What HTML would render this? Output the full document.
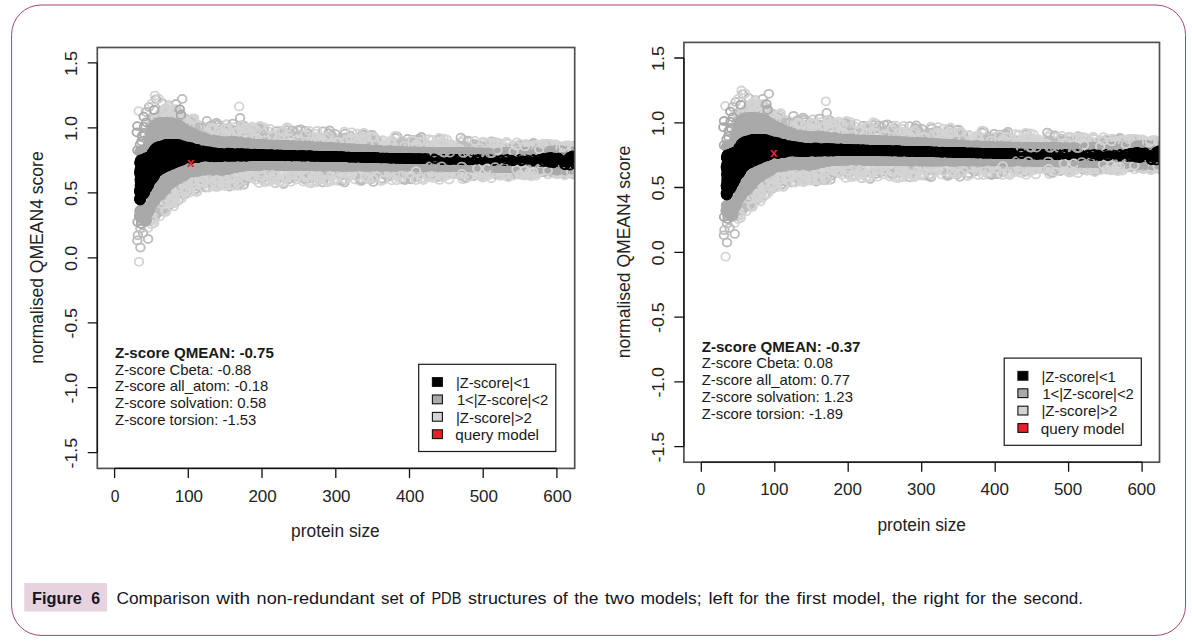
<!DOCTYPE html>
<html><head><meta charset="utf-8"><title>Figure 6</title>
<style>html,body{margin:0;padding:0;background:#fff;}body{width:1192px;height:643px;overflow:hidden;}svg{display:block;}text{font-family:"Liberation Sans", sans-serif;}.pl{fill:none;stroke:none;marker-start:url(#ml);marker-mid:url(#ml);marker-end:url(#ml);}.pl2{fill:none;stroke:none;marker-start:url(#ml2);marker-mid:url(#ml2);marker-end:url(#ml2);}.pg{fill:none;stroke:none;marker-start:url(#mg);marker-mid:url(#mg);marker-end:url(#mg);}.pb{fill:none;stroke:none;marker-start:url(#mb);marker-mid:url(#mb);marker-end:url(#mb);}</style></head><body>
<svg width="1192" height="643" viewBox="0 0 1192 643">
<defs><filter id="bl" x="0" y="0" width="1192" height="643" filterUnits="userSpaceOnUse"><feGaussianBlur stdDeviation="0.65"/></filter><marker id="ml" markerUnits="userSpaceOnUse" markerWidth="14" markerHeight="14" refX="7" refY="7" overflow="visible"><ellipse cx="7" cy="7" rx="4.30" ry="4.00" fill="none" stroke="#d4d4d4" stroke-width="1.80"/></marker><marker id="ml2" markerUnits="userSpaceOnUse" markerWidth="14" markerHeight="14" refX="7" refY="7" overflow="visible"><ellipse cx="7" cy="7" rx="4.30" ry="4.00" fill="none" stroke="#bcbcbc" stroke-width="1.80"/></marker><marker id="mg" markerUnits="userSpaceOnUse" markerWidth="14" markerHeight="14" refX="7" refY="7" overflow="visible"><ellipse cx="7" cy="7" rx="4.30" ry="4.00" fill="none" stroke="#a9a9a9" stroke-width="1.80"/></marker><marker id="mb" markerUnits="userSpaceOnUse" markerWidth="14" markerHeight="14" refX="7" refY="7" overflow="visible"><ellipse cx="7" cy="7" rx="4.30" ry="4.00" fill="none" stroke="#000" stroke-width="1.80"/></marker></defs>
<rect width="1192" height="643" fill="#fff"/>
<rect x="11.6" y="5.0" width="1173.9" height="630.4" rx="29.5" ry="29.5" fill="none" stroke="#a4447a" stroke-width="1.0"/>
<clipPath id="cpL"><rect x="97.3" y="47.5" width="477.4" height="420.9"/></clipPath>
<g clip-path="url(#cpL)">
<g id="sc" filter="url(#bl)">
<polygon fill="#dfdfdf" points="158.0,112.6 161.0,110.9 164.0,109.5 167.0,108.3 170.0,108.4 173.0,109.7 176.0,111.0 179.0,112.5 182.0,115.2 185.0,117.6 188.0,118.4 191.0,118.9 194.0,119.5 197.0,120.1 200.0,120.7 203.0,121.6 206.0,122.5 209.0,123.5 212.0,124.4 215.0,124.9 218.0,125.3 221.0,125.7 224.0,126.2 227.0,126.4 230.0,126.6 233.0,126.7 236.0,126.9 239.0,127.1 242.0,127.4 245.0,127.6 248.0,127.8 251.0,128.1 254.0,128.4 257.0,128.8 260.0,129.1 263.0,129.4 266.0,129.7 269.0,129.8 272.0,130.0 275.0,130.1 278.0,130.3 281.0,130.5 284.0,130.6 287.0,130.8 290.0,130.9 293.0,131.1 296.0,131.3 299.0,131.4 302.0,131.6 305.0,131.7 308.0,131.9 311.0,132.1 314.0,132.2 317.0,132.4 320.0,132.5 323.0,132.7 326.0,132.9 329.0,133.1 332.0,133.3 335.0,133.5 338.0,133.8 341.0,134.0 344.0,134.2 347.0,134.4 350.0,134.6 353.0,134.9 356.0,135.1 359.0,135.3 362.0,135.5 365.0,135.7 368.0,135.9 371.0,136.2 374.0,136.4 377.0,136.6 380.0,136.8 383.0,137.0 386.0,137.3 389.0,137.5 392.0,137.7 395.0,137.9 398.0,138.1 401.0,138.4 404.0,138.6 407.0,138.8 410.0,139.0 413.0,139.1 416.0,139.2 419.0,139.3 422.0,139.5 425.0,139.6 428.0,139.7 431.0,139.8 434.0,139.9 437.0,140.0 440.0,140.1 443.0,140.2 446.0,140.3 449.0,140.4 452.0,140.5 455.0,140.6 458.0,140.7 461.0,140.9 464.0,141.0 467.0,141.1 470.0,141.2 473.0,141.3 476.0,141.4 479.0,141.5 482.0,141.6 485.0,141.7 488.0,141.8 491.0,141.9 494.0,142.0 497.0,142.1 500.0,142.2 503.0,142.2 506.0,142.3 509.0,142.4 512.0,142.5 515.0,142.6 518.0,142.6 521.0,142.7 524.0,142.8 527.0,142.9 530.0,143.0 533.0,143.1 536.0,143.1 539.0,143.2 542.0,143.3 545.0,143.4 548.0,143.5 551.0,143.5 554.0,143.6 557.0,143.7 560.0,143.8 560.0,176.1 557.0,176.2 554.0,176.2 551.0,176.3 548.0,176.3 545.0,176.4 542.0,176.5 539.0,176.5 536.0,176.6 533.0,176.6 530.0,176.7 527.0,176.8 524.0,176.8 521.0,176.9 518.0,176.9 515.0,177.0 512.0,177.1 509.0,177.1 506.0,177.2 503.0,177.3 500.0,177.3 497.0,177.4 494.0,177.4 491.0,177.5 488.0,177.6 485.0,177.6 482.0,177.6 479.0,177.7 476.0,177.7 473.0,177.8 470.0,177.8 467.0,177.9 464.0,177.9 461.0,178.0 458.0,178.0 455.0,178.0 452.0,178.1 449.0,178.1 446.0,178.2 443.0,178.2 440.0,178.3 437.0,178.3 434.0,178.3 431.0,178.4 428.0,178.4 425.0,178.5 422.0,178.5 419.0,178.6 416.0,178.6 413.0,178.7 410.0,178.7 407.0,178.8 404.0,178.8 401.0,178.9 398.0,178.9 395.0,179.0 392.0,179.0 389.0,179.1 386.0,179.1 383.0,179.2 380.0,179.3 377.0,179.3 374.0,179.4 371.0,179.4 368.0,179.5 365.0,179.5 362.0,179.6 359.0,179.6 356.0,179.7 353.0,179.8 350.0,179.8 347.0,179.9 344.0,179.9 341.0,180.0 338.0,180.0 335.0,180.1 332.0,180.2 329.0,180.2 326.0,180.3 323.0,180.3 320.0,180.4 317.0,180.4 314.0,180.4 311.0,180.4 308.0,180.4 305.0,180.5 302.0,180.5 299.0,180.5 296.0,180.5 293.0,180.5 290.0,180.6 287.0,180.6 284.0,180.6 281.0,180.6 278.0,180.6 275.0,180.6 272.0,180.7 269.0,180.7 266.0,180.7 263.0,180.9 260.0,181.1 257.0,181.3 254.0,181.6 251.0,181.8 248.0,182.1 245.0,182.3 242.0,182.7 239.0,183.2 236.0,183.6 233.0,184.0 230.0,184.3 227.0,184.6 224.0,184.6 221.0,184.7 218.0,184.8 215.0,185.1 212.0,185.4 209.0,185.7 206.0,186.0 203.0,186.5 200.0,187.2 197.0,188.1 194.0,188.9 191.0,189.8 188.0,191.3 185.0,193.7 182.0,196.0 179.0,198.2 176.0,200.4 173.0,202.9 170.0,205.4 167.0,208.0 164.0,210.9 161.0,213.7 158.0,216.6"/>
<polyline class="pl" points="221.5,132.0 181.9,193.9 201.5,185.0 154.6,212.0 181.8,117.0 202.2,182.1 468.0,142.1 306.1,137.0 491.4,178.3 528.6,171.4 456.0,174.2 150.4,124.8 305.4,179.9 381.9,145.4 545.2,146.7 168.8,114.8 355.1,179.5 536.0,173.7 357.0,133.7 344.5,131.7 302.2,178.6 567.5,146.9 264.0,127.3 370.4,173.8 253.8,138.2 514.1,146.4 568.2,146.5 233.2,181.8 252.7,170.9 461.2,142.0 529.3,174.8 198.4,125.2 194.8,190.9 187.3,124.9 530.8,147.4 427.7,177.1 202.0,126.6 471.5,150.1 216.9,187.1 403.8,141.6 251.7,136.2 154.1,216.3 185.8,188.0 208.2,134.9 166.4,201.6 272.2,180.0 424.9,177.9 520.0,144.3 502.3,174.5 268.4,131.6 363.9,143.6 173.8,206.4 227.7,134.2 320.1,172.1 244.7,131.0 284.8,178.9 439.7,174.7 548.0,174.4 570.8,173.8 206.0,177.4 153.0,121.0 243.4,130.5 288.8,128.4 399.4,146.9 360.5,177.9 181.1,115.6 296.3,179.5 226.9,124.4 238.7,174.1 154.9,95.6 255.4,179.8 433.0,174.9 513.7,171.0 559.6,146.2 263.2,138.4 393.1,173.0 261.3,178.7 551.2,172.7 164.9,208.6 203.1,184.4 227.0,185.0 267.1,170.6 188.7,120.1 217.1,185.3 154.7,217.2 335.9,172.2 497.9,142.9 257.4,128.9 341.6,140.7 276.2,134.1 438.8,172.8 190.8,122.0 398.2,145.9 536.1,175.6 304.3,139.7 340.9,175.8 225.9,124.4 280.8,131.0 324.0,178.9 138.7,111.1 414.3,144.8 366.5,137.6 370.8,178.3 264.4,175.6 216.9,176.1 157.2,117.0 204.1,177.6 463.3,177.0 506.2,148.6 357.6,139.6 360.4,181.2 166.0,110.3 371.2,143.4 280.9,136.7 175.5,111.2 172.3,109.9 216.6,134.4 519.8,171.0 413.1,171.9 574.2,147.0 338.4,144.4 159.8,113.9 172.3,197.0 233.6,180.9 159.3,211.7 448.8,148.1 182.3,191.5 484.4,142.5 550.7,149.6 168.6,104.9 152.0,219.2 568.8,149.3 466.7,171.6 239.1,184.0 396.9,169.7 355.4,146.4 331.4,136.1 259.0,127.7 520.1,174.2 565.9,147.9 381.1,181.1 506.6,141.9 159.7,216.4 194.5,185.4 196.4,179.9 182.2,116.5 468.6,141.8 166.3,195.6 241.6,125.1 502.8,170.1 367.0,175.8 295.8,132.7 139.0,261.8 421.4,139.1 562.9,171.9 186.3,118.8 526.1,147.2 248.1,128.0 554.0,171.7 489.4,149.8 243.1,177.7 376.5,174.9 274.8,169.1 240.3,127.7 181.1,191.7 175.8,193.3 152.5,121.8 243.0,129.1 508.6,173.9 184.3,183.2 255.1,171.0 252.3,172.2 519.7,148.5 478.5,175.4 212.2,183.9 150.3,124.4 423.5,143.6 315.4,133.9 549.7,146.1 567.2,146.1 224.3,131.8 223.2,184.1 501.8,170.8 391.5,169.6 391.4,176.5 525.7,171.3 152.9,123.4 160.4,212.1 450.7,144.2 174.1,187.8 518.7,170.6 263.4,137.2 515.6,147.5 189.8,122.4 331.7,134.7 235.3,127.0 172.9,196.5 378.7,170.0 558.2,148.3 511.3,172.5 549.3,147.4 194.4,128.4 408.4,179.0 355.6,175.2 322.0,177.8 479.3,169.4 248.7,178.2 149.5,130.4 423.2,180.1 214.6,186.5 207.6,176.7 431.9,139.8 293.7,175.4 319.6,137.5 321.1,141.5 214.3,133.1 433.7,177.9 327.3,135.5 154.2,222.9 337.8,180.8 155.2,118.0 244.7,176.2 436.7,174.1 171.5,201.7 430.1,176.9 155.3,117.9 423.5,147.2 432.1,171.5 200.7,126.4 195.3,123.5 526.8,144.8 472.2,169.4 480.0,146.6 246.3,174.7 329.9,179.9 446.5,172.5 392.0,144.3 265.3,175.0 214.8,181.6 299.5,141.8 418.9,140.9 351.3,138.6 246.5,173.9 453.4,171.9 285.3,178.0 401.8,174.1 506.9,143.2 152.7,214.9 347.5,176.3 175.6,188.6 549.3,171.4 528.5,175.3 219.4,183.2 498.9,148.5 256.4,172.3 416.0,145.8 208.8,126.4 544.5,145.7 310.3,170.7 199.1,185.4 242.4,137.4 463.5,139.7 393.3,142.7 303.2,140.0 391.7,180.3 339.9,173.5 521.7,174.0 242.3,178.0 492.7,149.4 525.5,143.8 233.2,185.4 482.0,142.9 280.4,173.6 222.9,134.2 443.6,138.6 462.7,179.2 308.6,182.7 482.7,141.8 183.5,195.1 500.1,175.6 564.7,175.3 411.2,141.3 216.3,124.5 152.9,120.6 416.4,170.3 180.9,114.0 155.2,216.2 328.2,135.6 172.3,116.9 254.2,171.8 227.7,135.1 535.5,145.4 433.1,171.2 482.5,177.6 340.3,141.8 193.7,187.1 437.6,172.0 257.8,137.2 156.5,207.5 316.7,182.3 270.9,177.5 434.1,171.0 232.9,129.6 387.2,172.3 281.1,134.3 346.2,140.1 185.6,190.2 322.0,176.5 513.2,145.2 456.2,150.0 418.2,150.5 265.0,172.9 487.1,144.2 260.8,139.4 243.2,131.6 250.3,174.7 221.1,184.0 148.0,228.0 374.5,170.6 484.2,172.4 217.9,178.0 517.0,142.3 186.5,123.9 173.2,203.4 400.5,178.2 401.8,179.4 482.9,145.5"/>
<polyline class="pl2" points="516.1,148.8 191.2,122.2 519.7,145.7 164.5,211.3 148.1,239.0 473.8,176.1 169.4,112.9 466.0,178.0 289.5,132.8 270.8,171.5 271.4,139.5 156.9,212.7 374.5,137.6 331.4,136.8 155.7,118.6 283.5,184.0 287.3,130.3 371.6,142.7 216.7,132.5 384.9,172.6 329.7,142.9 192.3,119.7 567.4,173.1 181.6,186.8 403.7,179.4 420.8,149.5 210.3,128.9 563.4,172.2 418.5,140.5 306.8,136.6 226.1,180.7 251.6,172.2 511.2,148.6 254.3,170.6 283.5,135.5 496.1,174.6 461.3,175.1 564.2,173.6 195.6,189.1 254.1,176.1 529.7,174.5 321.1,171.2 569.6,173.0 193.3,126.7 447.5,172.7 397.2,136.5 289.0,179.0 332.3,136.7 220.5,177.2 505.9,170.8 281.9,133.5 344.6,137.7 372.1,134.8 305.5,178.9 276.5,131.1 237.4,185.5 454.4,172.6 137.8,235.3 341.5,140.5 345.0,179.7 516.6,172.1 412.7,139.8 362.1,180.6 237.8,134.7 162.5,110.6 461.2,175.0 325.6,176.6 532.9,148.3 519.7,145.5 554.0,173.0 362.8,137.4 137.3,240.4 482.7,174.8 213.4,179.8 350.0,135.7 428.0,148.1 382.2,178.4 421.4,137.0 370.3,135.3 339.7,142.1 186.8,191.8 322.8,182.3 532.4,144.2 188.5,187.7 322.7,174.7 294.3,177.3 467.9,175.2 192.5,179.2 440.2,139.3 493.5,171.2 395.5,137.8 198.6,127.7 403.1,172.0 370.9,179.4 289.4,140.6 190.3,125.5 495.2,149.7 233.5,132.1 358.3,145.2 531.1,149.3 399.4,169.4 213.3,176.9 311.2,178.4 502.5,175.2 451.2,173.7 573.7,173.2 415.2,141.2 491.6,141.3 212.4,131.1 385.5,174.4 143.0,233.0 170.1,118.5 341.9,181.0 309.8,176.5 226.3,177.3 305.2,141.4 364.4,142.9 363.2,134.5 484.3,170.9 498.9,173.5 361.6,171.0 344.4,182.4 407.1,145.9 160.0,117.9 335.0,143.6 244.2,126.0 483.1,176.7 328.7,133.1 430.4,174.3 153.7,118.7 574.2,174.5 237.3,184.2 187.1,187.4 396.7,170.6 574.5,147.3 245.9,138.1 166.9,195.0 308.6,133.6 297.8,130.2 275.4,183.3 244.6,136.2 300.9,129.5 234.9,131.3 402.8,144.9 298.8,135.6 550.7,144.4 533.4,143.0 361.8,140.7 184.7,118.7 447.9,171.2 437.2,145.4 557.9,173.8 140.4,247.6 283.8,138.1 229.2,181.8 233.6,182.3 509.1,176.1 416.6,172.4 165.3,211.7 506.4,171.2 189.3,180.8 411.0,179.4 292.3,130.7 245.1,180.7 419.6,171.6 177.0,112.4 162.0,103.0 311.1,136.4 182.2,120.3 492.3,148.9 461.0,146.6 419.6,144.7 192.4,126.6 563.9,149.3 150.2,221.0 411.3,142.5 407.6,138.9 305.3,131.0 460.8,137.7 477.7,145.4 178.0,111.7 267.8,137.8 177.2,117.3 553.1,148.7 169.4,205.0 232.8,123.7 148.4,138.8 474.4,143.8 438.5,176.9 225.9,135.3 536.5,147.7 281.0,137.9 274.5,169.9 218.2,124.7 501.4,147.1 428.5,145.8 193.0,120.0 199.2,186.9 366.0,144.5 463.8,148.2 176.0,104.0 339.8,173.6 148.2,137.3 202.1,127.9 201.0,183.0 550.3,147.9 240.7,182.1 281.9,133.9 220.1,185.7 405.6,143.9 153.3,121.5 373.3,181.9 167.5,200.2 149.0,107.0 150.3,127.9 229.5,186.6 265.0,172.2 423.8,146.2 544.3,172.0 263.5,129.6 155.4,119.5 339.2,141.6 350.7,143.2 185.4,119.6 257.9,135.9 195.5,128.2 361.1,171.3 419.4,145.3 463.5,145.8 549.1,146.4 409.4,173.0 186.0,193.7 182.2,98.9 211.5,125.1 405.1,180.1 516.7,174.2 330.7,135.4 506.6,150.3 212.6,130.3 368.7,177.2 369.1,139.1 256.5,176.2 265.5,171.5 418.6,138.9 162.5,210.1 205.3,187.5 537.6,146.8 416.7,177.0 216.5,122.8 243.8,184.8 262.1,138.1 273.1,172.5 362.2,134.6 159.7,209.6 331.6,143.1 438.7,147.4 464.6,146.4 474.5,145.9 329.7,130.5 543.0,149.4 178.4,200.3 525.1,174.3 219.7,126.9 169.5,197.1 261.3,133.0 258.7,128.5 394.8,144.9 396.1,169.7 155.5,215.7 184.0,192.1 396.6,143.1 387.5,176.7 484.9,147.0 396.2,171.5 253.4,136.7 161.4,211.1 171.8,110.8 376.3,139.8 156.1,99.3 374.9,141.7 247.5,128.8 360.2,179.7 468.2,140.6 226.5,131.1 410.1,148.5 556.9,171.8 316.5,142.0 507.2,171.6 514.7,173.8 413.3,144.4 146.0,112.0 303.9,141.5 216.4,132.6 497.5,142.8 271.5,176.3 344.6,144.2 184.8,120.8 376.7,171.1 262.2,178.8 488.4,147.1 573.3,174.1 165.0,112.6 490.8,171.4 345.1,133.7 235.7,181.2 543.5,172.2 206.9,120.9 549.8,170.3 553.1,170.8 266.3,180.2 335.1,133.9 367.9,138.3 323.0,131.3 232.1,130.1 573.3,145.8 187.3,187.4 164.2,114.0 175.0,113.8 566.0,146.4 379.7,171.2 472.6,146.7 240.1,118.0 140.4,228.5 526.6,145.6 488.6,147.4 546.6,146.3 253.4,133.3"/>
<polyline class="pl" points="368.0,143.2 389.9,143.1 259.0,183.1 432.5,175.3 559.7,147.2 338.8,142.4 289.0,138.1 248.0,174.4 323.7,174.1 286.2,178.3 164.8,108.8 224.6,185.8 178.6,118.6 570.7,146.9 570.1,172.4 540.6,148.8 361.5,138.1 200.1,182.9 328.5,179.8 313.7,176.0 423.1,147.6 279.1,138.1 160.8,115.2 538.4,144.7 251.7,137.7 534.0,145.4 183.4,118.7 170.3,117.6 208.7,187.4 241.2,129.3 246.6,175.6 298.1,139.4 213.6,178.5 572.3,172.1 267.6,179.7 231.7,183.9 210.7,184.9 395.3,135.8 315.4,175.1 451.0,146.0 208.3,187.6 255.4,138.5 298.2,174.9 390.7,172.0 262.3,175.9 373.0,178.4 497.8,142.7 412.7,140.6 356.6,176.2 290.5,175.2 171.3,193.1 210.5,128.6 351.7,138.2 248.5,128.0 347.9,173.4 225.6,182.2 174.7,197.4 304.4,175.8 241.5,125.9 303.1,181.6 166.0,211.8 279.8,182.1 415.9,180.0 251.4,176.0 525.7,170.9 497.6,149.3 224.1,181.9 468.8,176.7 202.0,180.9 151.8,103.7 156.0,117.9 482.7,176.7 506.5,174.5 252.1,126.7 389.1,172.5 409.5,173.8 493.3,172.9 349.9,139.0 484.0,177.1 269.7,128.8 159.5,114.5 383.1,145.5 520.9,172.4 153.9,220.4 217.5,179.3 173.5,111.5 207.5,133.1 333.7,180.5 565.8,145.3 416.8,144.4 326.2,138.3 477.4,173.1 564.0,174.8 190.1,192.5 165.3,210.7 315.7,181.1 227.9,129.2 311.5,141.8 154.2,120.4 569.9,146.0 530.6,148.9 346.8,140.0 212.1,127.7 528.1,172.9 361.3,144.4 163.9,111.1 189.7,124.4 384.4,172.2 240.3,185.5 524.5,175.5 335.1,178.6 174.6,118.0 540.2,171.7 171.9,198.9 473.6,150.5 317.1,131.0 458.8,149.5 242.5,132.1 181.5,198.4 368.1,179.1 372.2,137.5 328.8,181.7 170.5,201.0 192.4,119.5 265.2,140.2 233.7,176.3 151.7,219.7 383.2,179.9 227.0,180.6 188.2,183.7 271.7,170.1 225.8,134.2 184.8,192.4 161.6,203.8 196.6,192.0 548.4,144.2 419.6,141.9 391.8,170.3 316.8,137.1 311.3,183.3 319.4,179.6 449.3,169.8 214.1,129.0 315.8,176.8 480.4,171.3 234.4,185.5 365.1,176.6 296.4,171.4 314.9,170.9 215.7,179.4 416.2,144.6 224.8,136.3 556.5,145.1 256.1,130.2 224.4,184.8 504.3,147.2 272.9,135.7 328.1,136.0 343.1,173.3 253.3,138.9 382.7,140.1 496.4,149.0 448.4,174.8 173.2,201.5 503.2,175.3 219.6,185.8 357.5,141.1 185.8,189.5 500.3,171.8 446.8,139.6 507.9,144.2 366.5,137.7 478.2,175.3 557.2,172.9 481.9,150.8 480.6,148.2 273.8,175.1 433.2,147.8 391.5,140.2 471.2,170.0 236.0,173.3 183.3,121.1 305.4,134.2 531.2,149.0 167.3,108.6 431.2,172.6 275.2,183.1 571.1,148.3 373.8,136.9 327.4,182.3 282.7,131.4 554.8,147.8 344.8,171.0 237.8,182.9 555.3,144.4 364.0,132.8 243.4,173.9 403.0,174.3 293.0,173.5 355.5,139.1 194.3,181.1 534.8,173.5 253.8,128.3 399.1,175.7 160.5,114.5 222.3,134.7 450.0,174.2 369.0,173.9 500.6,175.7 431.6,147.9 428.8,139.2 200.6,177.0 158.6,98.7 279.7,181.7 314.6,176.6 186.0,123.1 443.3,177.2 443.4,142.7 458.8,173.7 290.9,181.8 528.2,148.4 171.0,203.2 245.3,128.2 175.1,109.1 191.5,181.8 451.7,170.2 264.6,182.3 534.7,145.5 207.3,132.6 483.8,170.7 148.1,137.3 225.8,128.0 256.8,138.1 478.7,173.8 318.6,176.5 565.3,172.2 239.2,106.4 194.1,118.3 165.7,108.5 556.1,174.1 192.2,181.2 435.9,145.8 312.4,181.6 568.6,145.3 260.1,126.0 284.0,137.1 180.0,194.6 446.6,145.5 513.2,175.4 562.8,172.3 543.7,144.0 449.2,179.5 493.6,144.7 396.6,180.2 570.9,147.3 372.1,170.8 562.1,170.5 348.6,176.8 334.9,171.2 275.5,174.8 197.1,191.6 298.4,174.9 566.5,148.5 404.5,145.7 286.8,127.5 315.1,141.3 534.1,146.2 531.5,176.2 211.4,177.6 235.8,173.4 489.7,172.9 486.1,174.4 361.5,140.5 345.1,179.6 260.7,169.4 176.7,112.3 175.9,202.8 421.1,178.7 250.5,172.1 282.1,182.7 490.6,142.6 336.6,141.8 488.8,175.3 453.9,147.6 199.1,181.9 292.0,170.6 476.6,169.8 192.4,119.5 186.6,190.7 559.4,149.1 444.8,143.2 273.9,179.4 442.9,171.2 151.6,224.2 429.8,147.5 165.0,117.9 365.6,177.6 168.3,106.5 439.1,138.0 560.6,147.7 523.3,147.7 236.2,132.2 252.9,171.7 416.7,147.0 332.4,143.5 546.8,143.9 194.1,183.9 187.5,180.1 502.6,171.0 267.9,181.6 231.0,135.0 224.8,128.3 237.7,131.1 252.8,178.1 261.4,172.6 171.9,192.4 351.9,132.3 309.1,130.8 520.3,174.7 459.1,148.4 508.1,177.2 384.8,145.3 239.2,176.2 220.3,135.4 230.2,177.3 439.5,179.9 271.6,178.7 322.7,140.5"/>
<polygon fill="#a9a9a9" points="147.0,145.7 150.0,132.5 153.0,124.6 156.0,119.4 159.0,119.2 162.0,119.0 165.0,118.8 168.0,119.0 171.0,119.5 174.0,119.9 177.0,120.4 180.0,121.7 183.0,123.8 186.0,125.9 189.0,127.7 192.0,129.2 195.0,130.7 198.0,132.2 201.0,133.4 204.0,134.4 207.0,135.4 210.0,136.3 213.0,137.0 216.0,137.2 219.0,137.3 222.0,137.5 225.0,137.6 228.0,137.8 231.0,137.9 234.0,138.1 237.0,138.2 240.0,138.5 243.0,138.9 246.0,139.2 249.0,139.5 252.0,139.9 255.0,140.2 258.0,140.5 261.0,140.9 264.0,141.2 267.0,141.4 270.0,141.6 273.0,141.8 276.0,142.0 279.0,142.1 282.0,142.3 285.0,142.5 288.0,142.7 291.0,142.9 294.0,143.0 297.0,143.2 300.0,143.4 303.0,143.6 306.0,143.8 309.0,143.9 312.0,144.1 315.0,144.3 318.0,144.5 321.0,144.7 324.0,144.9 327.0,145.1 330.0,145.3 333.0,145.5 336.0,145.7 339.0,146.0 342.0,146.2 345.0,146.4 348.0,146.6 351.0,146.8 354.0,147.0 357.0,147.2 360.0,147.4 363.0,147.7 366.0,147.9 369.0,148.1 372.0,148.3 375.0,148.5 378.0,148.7 381.0,148.9 384.0,149.2 387.0,149.4 390.0,149.6 393.0,149.8 396.0,150.0 399.0,150.2 402.0,150.4 405.0,150.6 405.0,168.1 402.0,168.1 399.0,168.2 396.0,168.2 393.0,168.3 390.0,168.3 387.0,168.4 384.0,168.4 381.0,168.5 378.0,168.5 375.0,168.6 372.0,168.6 369.0,168.7 366.0,168.7 363.0,168.8 360.0,168.8 357.0,168.9 354.0,168.9 351.0,169.0 348.0,169.0 345.0,169.1 342.0,169.1 339.0,169.2 336.0,169.2 333.0,169.3 330.0,169.3 327.0,169.4 324.0,169.4 321.0,169.5 318.0,169.4 315.0,169.3 312.0,169.3 309.0,169.2 306.0,169.1 303.0,169.0 300.0,168.9 297.0,168.8 294.0,168.7 291.0,168.6 288.0,168.5 285.0,168.4 282.0,168.3 279.0,168.2 276.0,168.1 273.0,168.0 270.0,168.0 267.0,167.9 264.0,167.9 261.0,168.1 258.0,168.4 255.0,168.6 252.0,168.9 249.0,169.1 246.0,169.4 243.0,169.9 240.0,170.7 237.0,171.4 234.0,172.1 231.0,172.9 228.0,173.6 225.0,173.6 222.0,173.6 219.0,173.6 216.0,173.6 213.0,173.6 210.0,173.6 207.0,173.6 204.0,173.9 201.0,174.4 198.0,175.0 195.0,175.5 192.0,176.1 189.0,176.7 186.0,178.1 183.0,179.8 180.0,181.6 177.0,183.3 174.0,185.5 171.0,187.9 168.0,190.3 165.0,193.5 162.0,196.8 159.0,200.0 156.0,203.5 153.0,206.9 150.0,212.9 147.0,219.6"/>
<polyline class="pg" points="143.4,219.8 267.0,144.7 196.9,135.5 285.3,145.2 388.1,166.5 353.6,166.4 445.5,166.7 330.1,166.1 285.6,145.5 180.9,177.1 201.5,170.8 561.8,170.5 556.1,150.4 240.9,141.4 374.7,166.4 152.1,201.2 327.9,147.1 505.7,152.0 380.9,150.3 195.6,134.6 156.3,125.5 184.3,172.2 304.7,146.4 373.0,166.3 535.2,151.7 366.3,149.7 393.4,151.2 220.6,169.1 192.3,135.0 365.5,166.6 344.1,148.4 302.6,145.9 305.2,146.0 284.7,165.4 257.5,144.8 453.1,152.5 193.3,172.5 366.9,166.3 514.1,152.1 195.3,171.0 562.8,170.1 182.9,172.7 328.6,147.4 498.4,167.6 411.4,151.5 160.3,124.8 397.3,166.2 195.9,168.5 506.6,168.1 408.0,152.0 230.4,169.6 425.4,152.2 287.2,165.9 493.2,167.1 445.9,166.6 175.1,179.9 145.0,216.7 528.2,168.2 298.7,165.9 228.0,143.2 276.0,144.8 432.0,152.1 263.6,144.7 172.8,125.5 550.2,169.6 137.4,126.1 413.5,166.1 212.2,142.1 165.7,125.9 438.4,166.6 298.9,145.7 328.4,147.7 194.5,171.2 147.8,212.0 490.3,152.7 567.3,170.3 199.7,139.9 227.2,143.2 563.1,150.1 288.1,145.3 140.8,216.7 173.6,179.3 180.2,128.0 240.9,167.3 243.6,166.5 158.3,193.6 365.7,166.7 142.5,215.2 331.3,147.3 431.2,151.9 311.7,166.2 440.5,166.6 140.2,151.5 177.1,124.8 329.5,147.8 360.3,149.1 239.9,143.6 148.3,144.6 150.0,139.1 153.7,202.3 177.0,127.7 497.7,168.0 544.4,169.0 215.4,139.9 356.0,166.2 336.1,148.0 546.0,151.0 519.3,152.0 224.3,142.7 185.3,172.7 414.3,151.6 287.7,145.6 165.5,189.1 215.8,141.8 142.6,151.4 334.7,166.2 143.8,217.6 172.8,181.4 149.1,211.7 572.0,170.5 153.0,200.9 224.0,167.2 202.6,169.5 270.3,144.7 181.4,129.9 235.7,166.1 422.4,166.5 486.4,152.8 248.8,144.2 436.9,166.9 185.0,175.7 194.3,169.8 489.4,167.8 184.0,131.6 473.3,152.5 376.3,166.1 155.3,127.8 145.5,150.5 226.6,166.7 351.7,148.5 317.6,166.4 262.8,145.1 200.9,169.8 183.0,131.8 228.6,143.2 518.9,168.2 223.0,141.7 149.9,138.6 191.3,169.9 256.0,165.7 380.4,150.1 339.2,166.3 416.9,151.9 183.8,174.1 189.3,133.2 172.9,182.0 503.4,152.4 429.2,151.8 146.5,149.1 466.2,167.0 152.3,203.0 541.6,169.1 141.4,213.6 173.9,181.2 437.6,166.5 244.0,143.8 501.2,152.3 285.8,145.3 213.6,141.0 258.5,165.2 176.2,180.3 312.8,147.0 509.6,167.9 202.6,168.5 259.5,144.5 213.3,167.1 174.0,178.3 307.3,146.2 446.1,167.2 362.8,166.7 196.9,138.5 498.4,167.5 175.1,179.0 167.2,123.8 237.5,167.7 184.5,175.1 177.8,126.5 409.3,166.0 226.9,142.8 185.9,171.6 340.7,148.3 252.9,165.4 168.6,183.3 300.0,145.8 163.0,124.5 157.3,124.8 319.2,166.1 222.2,142.2 379.9,150.3 304.9,166.1 141.2,151.1 196.1,171.3 171.5,125.0 532.3,168.6 286.9,145.5 142.6,151.2 460.4,152.4 391.1,150.7 203.2,138.8 414.3,152.2 269.4,145.3 526.7,168.6 565.9,149.8 181.4,176.2 279.2,145.4 214.0,166.7 443.1,152.2 454.5,152.0 148.7,208.9 188.8,170.6 278.0,165.2 568.5,150.2 171.2,182.2 146.4,212.4 431.8,151.8 228.3,166.9 198.9,170.6 207.1,141.3 417.3,166.7 159.9,195.9 186.2,129.7 262.1,165.7 182.7,172.8 247.0,166.3 229.2,143.1 236.5,143.4 201.8,169.6 323.7,147.0 418.0,151.9 176.6,178.5 350.7,166.2 370.5,149.9 189.4,131.9 375.7,150.1 371.7,149.9 303.1,146.2 318.3,146.6 256.8,144.7 473.3,152.3 143.7,149.7 409.0,166.1 485.1,152.7 283.6,165.8 527.6,168.4 143.7,209.7 190.7,134.7 140.7,151.3 371.9,166.1 234.6,143.3 522.1,151.6 368.4,149.3 198.1,136.5 143.8,213.8 519.7,168.0 171.7,122.5 313.1,165.8 384.2,166.5 163.2,192.1 299.5,146.1 213.3,142.2 253.2,143.7 159.5,194.4 159.5,125.6 183.0,127.2 441.5,152.1 480.6,152.9 328.3,147.2 487.1,153.1 152.6,201.6 288.1,166.0 479.5,153.0 161.7,123.6 323.7,166.1 281.4,165.8 278.3,145.2 474.0,167.0 285.1,165.7 201.0,138.3 141.3,151.7 207.0,140.3 393.4,166.3 148.5,146.7 328.7,147.7 187.4,169.4 162.4,123.1 279.0,144.9 217.8,143.1 452.9,152.2 220.1,168.8 419.6,166.8 193.0,170.8 149.8,210.6 350.5,148.6 209.0,167.2 339.8,166.4 241.9,166.4 165.8,187.2 456.0,166.9 165.9,188.7 188.1,170.4 510.4,168.1 266.1,145.2 185.2,131.2 302.1,166.1 270.4,165.2 444.1,152.5 157.5,197.1 230.5,166.3 236.2,143.2 495.4,167.9 242.9,165.8 292.4,145.4 217.7,142.6 302.1,165.7 260.7,144.1 426.6,166.7 347.5,148.6 239.2,167.1 504.9,152.7 256.7,144.5 151.7,131.0 172.2,126.7 276.0,165.1 163.9,186.8 205.9,167.1 227.0,170.1 354.4,166.3 217.5,141.6 172.7,126.7 279.9,145.4 483.8,153.1 165.2,185.5 339.5,166.8 193.2,171.5 166.0,186.3 146.7,210.9 277.6,165.4 147.2,147.6 290.5,145.8 169.8,123.5 474.2,153.0 226.4,166.7 205.1,169.2 253.6,165.5 301.3,166.0 365.3,149.2 339.1,147.6 391.7,150.9 166.4,188.3 213.8,169.2 232.4,143.4 245.6,165.7 256.9,165.5 204.2,167.0 315.4,146.6 141.0,214.3 186.0,129.7 293.1,165.4 248.2,144.4 463.6,167.0 359.4,166.1 394.6,166.4 152.7,203.8 520.7,168.1 351.7,166.6 224.8,166.5 482.5,152.4 348.8,166.2 298.6,165.8 231.2,142.6 244.7,143.9 316.1,147.1 234.4,143.1 165.8,187.0 184.7,174.9 292.4,165.7 248.5,143.0 244.6,143.6 205.8,139.5 167.7,123.1 242.2,165.9 367.7,149.9 497.1,152.6 562.0,150.1 174.8,124.0 183.9,174.4 261.2,165.7 167.1,122.4 146.9,220.3 253.6,143.9 191.3,169.7 154.1,201.1 286.5,165.9 474.8,167.3 252.4,144.5 224.8,141.3 344.8,166.6 146.1,150.0 291.2,145.6 514.0,167.9 542.6,151.3 250.9,165.9 229.1,141.0 169.7,181.7 171.4,123.2 467.9,152.2 373.8,149.8 397.6,151.2 497.5,167.7 266.9,144.8 299.6,145.6 318.6,146.7 213.7,141.8 191.3,171.7 532.9,168.5 464.9,152.2 161.1,123.6 187.0,173.8 303.9,166.3 341.4,166.1 189.9,132.8 511.7,151.9 140.4,151.5 143.7,116.7 234.4,166.4 146.8,214.1 332.9,166.0 249.3,166.1 486.0,152.9 222.7,170.6 185.5,133.7 316.6,166.2 150.0,206.0 295.1,166.1 535.1,168.6 183.6,129.4 312.1,166.2 152.9,128.0 206.5,168.2 240.3,166.0 152.1,200.7 173.1,182.7 307.6,166.0 158.4,197.0 354.3,148.5 235.9,142.2 451.4,152.0 450.6,152.4 210.3,168.2 169.4,185.0 507.3,167.6 279.0,165.8 410.4,166.0 346.4,166.1 195.2,134.0 471.8,152.3 557.9,169.5 211.0,141.9 141.0,224.0 352.6,148.9 141.7,215.7 311.7,165.9 202.0,169.8 351.7,166.2 366.6,149.6 239.5,166.0 556.9,150.3 474.7,167.2 160.7,124.3 368.4,166.3 233.9,141.3 511.8,168.2 192.2,134.8 276.6,165.7 148.0,145.1 509.9,168.2 149.0,208.2 237.2,167.6 295.7,166.2 334.5,148.0 201.1,169.3 276.2,165.6 249.2,165.6 228.7,143.0 465.7,166.7 213.3,167.3 217.3,169.1 369.0,166.8 359.0,148.8 163.6,122.3 311.5,165.8 551.5,169.2 365.5,149.1 233.4,143.6 192.3,136.3 139.2,216.0 223.4,142.8 238.4,143.6 438.0,166.8 289.7,165.9 379.4,150.2 143.7,211.4 167.2,185.4 525.2,151.8 353.9,166.4 504.0,167.6 243.5,143.8 277.2,165.1 307.8,146.5 147.1,215.3 155.4,198.6 152.1,130.3 219.0,142.8 310.8,165.8 343.5,148.2 191.7,136.6 143.7,150.9 390.2,150.5 315.4,166.5 458.7,166.7 221.3,142.5 266.0,144.7 164.9,188.4 241.8,166.1 342.1,166.5 224.6,142.7 222.8,142.8 260.5,143.8 367.5,149.1 224.3,169.5 448.2,167.0 320.9,166.1 163.2,125.0 368.1,166.1 196.3,168.6 300.6,145.7 422.4,152.3 245.3,166.3 447.7,152.2 343.9,147.8 259.3,144.9 305.7,146.2 473.3,152.3 235.2,141.5 342.7,148.0 306.4,146.3 507.2,152.5 259.2,165.6 260.9,144.5 300.9,146.1 170.7,181.7 399.8,151.2 545.8,168.8 513.8,152.3 406.1,166.2 432.9,166.3 265.8,144.6 213.7,141.9 335.8,147.4 452.2,152.7 422.1,166.6 272.9,145.0 140.9,216.0 234.3,143.1 509.2,152.1 288.4,145.3 554.9,169.5 322.5,166.6 445.6,152.0 150.8,136.1 141.6,151.6 276.6,165.7 225.8,167.9 266.3,165.0 283.4,165.2 302.1,145.9 385.6,166.1 154.5,197.9 141.5,141.5 248.0,142.1 552.1,150.7 490.7,167.6 163.3,191.7 185.2,173.8 229.4,169.3 272.0,145.0 491.1,167.7 396.0,150.7 309.2,146.2 232.9,142.7 407.9,166.4 327.0,166.1 277.8,145.3 148.0,146.9 359.8,166.3 429.6,166.5 150.8,136.2 230.3,166.3 185.5,173.2 151.3,135.2 140.8,213.6 320.5,166.0 147.7,212.9 305.3,146.5 553.4,169.4 351.6,149.0 173.0,127.5 469.4,167.0 565.6,170.4 211.2,141.8 311.3,165.7 251.4,143.7 423.4,152.3 339.2,147.7 204.6,140.4 155.3,197.8 443.4,152.1 421.7,166.5 443.6,166.8 204.1,168.8 462.2,152.2 406.1,151.9 366.7,166.0 175.8,179.7 358.0,166.4 503.2,167.8 537.0,151.3 274.5,144.7 210.2,139.7 419.6,166.4 378.0,166.1 438.9,152.1 150.5,206.9 245.4,144.2 147.3,146.9 234.3,143.1 317.5,166.2 252.4,165.9 169.7,181.8 183.0,173.0 140.4,217.1 234.3,141.5 306.1,146.1 326.7,147.3 365.8,149.7 379.8,166.5 187.8,132.6 283.3,145.6 199.5,169.6 295.5,145.6 502.2,167.9 202.9,137.8 208.6,141.3 425.4,152.1 198.4,170.7 325.7,166.1 180.6,127.7 335.0,147.9 474.6,152.7 529.7,152.1 540.6,151.6 532.0,151.8 378.1,166.2 242.7,142.3 319.3,166.2 299.3,145.9 282.7,165.3 275.7,165.8 323.2,166.0 442.2,152.6 344.0,166.1 517.9,168.0 170.8,126.5 192.9,137.1 162.2,191.5 257.5,144.4 224.3,143.3 223.0,168.4 391.2,150.6 358.3,148.9 544.2,168.7 211.2,168.5 219.3,140.4 142.3,208.0 318.2,147.1 300.0,165.7 137.4,150.3 307.5,165.8 164.8,122.0 142.8,213.8 159.9,193.3 472.0,153.0 323.3,146.9 393.1,151.1 278.3,144.9 568.9,149.6 367.5,166.6 170.9,122.7 140.9,217.8 347.2,148.8 423.9,166.9 321.7,166.0 364.3,166.3 190.6,170.5 270.2,144.9 254.5,165.7 485.8,167.4 140.8,151.3 146.1,212.3 284.1,145.3 147.8,211.8 196.9,168.2 275.6,165.4 166.7,184.9 352.4,166.6 240.2,141.7 142.4,151.3 315.9,166.2 148.6,210.8 159.5,124.1 242.5,143.3 317.9,166.1 461.1,167.2 367.4,149.8 196.7,135.1 446.2,152.2 377.0,166.1 169.4,183.9 259.8,144.5 319.3,146.9 552.5,169.4 369.2,166.4 267.6,144.7 196.4,137.4 396.8,166.3 194.7,136.6 173.1,126.4 158.9,195.3 144.1,213.2 182.3,174.4 498.4,152.9 300.5,146.1 488.1,152.8 211.4,167.2 182.5,175.7 537.4,151.3 168.8,185.6 298.2,145.6 331.8,147.2 525.6,152.1 194.2,136.1 285.8,165.8 203.8,169.3 216.8,140.7 264.1,145.1 293.2,146.0 144.8,218.4 298.2,146.3 190.3,132.8 294.5,145.5 448.4,167.1 168.4,122.4 141.8,212.2 210.1,141.6 149.3,141.5 462.3,152.4 292.4,166.0 291.5,145.7 207.6,170.3 246.3,165.6 464.1,152.5 153.5,129.2 400.6,151.0 487.4,167.4 264.9,164.9 173.9,126.2 326.4,147.5 160.5,195.0 209.8,168.9 402.7,151.3 163.1,188.6 248.3,166.0 280.3,145.3 257.1,144.8 403.0,151.1 155.3,201.0 269.3,145.0 243.9,166.2 149.4,207.3 465.8,152.6 235.1,143.2 419.7,151.6 149.0,209.5 166.6,187.7 311.7,166.0 145.3,150.5 149.0,143.1 421.6,166.3 285.7,165.2 352.0,166.5 141.6,151.3 149.1,209.0 565.3,170.6 142.1,135.9 188.4,130.8 139.4,210.7 146.1,212.4 272.4,165.3 245.4,165.9 354.6,148.7 413.2,151.6 521.8,151.9 180.4,176.1 425.5,166.8 201.9,169.1 165.6,123.6 473.7,152.9 161.0,193.5 211.9,167.8 139.7,152.1 144.3,214.1 324.4,166.3 535.5,151.9 550.9,150.6 314.1,165.9 347.7,148.4 158.1,127.2 337.1,147.9 235.2,166.4 154.7,129.6 466.1,152.8 451.8,152.0 464.1,152.3 174.9,122.9 286.1,145.1 277.0,165.1 301.0,145.9 369.0,166.4 188.0,172.0 418.6,166.6 306.3,166.0 552.8,169.8 293.8,165.7 287.1,166.0 519.8,168.4 196.4,170.6 542.6,169.3 280.5,145.2 477.2,167.6 309.8,166.2 317.8,166.2 291.3,145.6 200.3,138.0 201.3,138.4 372.3,166.0 550.7,150.8 175.4,126.4 328.9,166.1 179.0,127.5 212.7,170.6 396.7,166.6 200.6,140.1 279.5,145.3 152.0,133.2 331.0,147.6 200.8,167.8 234.3,166.7 418.5,166.8 200.5,137.9 398.9,166.2 236.5,167.2 379.7,166.7 247.8,144.3 295.4,166.2 158.5,193.1 268.1,144.8 324.2,166.5 557.2,150.7 252.8,144.3 180.5,176.3 281.5,165.3 471.5,166.9 180.3,129.4 245.3,144.1 149.0,144.1 142.7,215.4 407.8,151.7 282.1,165.9 180.6,176.4 357.4,149.1 151.0,203.2 140.8,209.4 355.0,166.4 167.0,185.5 251.1,144.2 236.8,166.0 273.7,165.2 193.6,133.6 236.6,167.6 242.3,165.9 462.8,152.6 379.9,150.0 149.6,141.5 348.8,166.3 456.6,166.6 478.5,152.6 197.9,169.5 185.8,173.4 432.0,152.3 187.5,170.7 563.3,169.9 289.8,165.6 255.6,165.5 179.2,124.5 143.6,214.4 313.5,146.7 422.8,166.1 518.5,152.4 165.7,188.3 321.4,166.1 255.8,144.1 173.0,178.9 459.1,152.8 170.4,127.0 405.7,166.5 236.7,142.3 513.7,151.9 383.7,166.5 471.0,152.3 194.6,169.9 256.2,144.7 141.0,214.5 258.4,144.3 216.1,142.6 173.7,178.8 156.7,195.5 196.8,171.2 284.1,145.5 170.1,125.9 290.2,166.1 182.4,128.4 322.7,146.7 289.7,165.6 215.2,142.0 453.3,167.2 457.8,167.1 522.8,151.9 179.8,109.3 421.8,151.8 288.2,145.5 365.8,166.6 227.3,168.9 156.1,127.4 177.6,127.9 179.1,177.7 205.0,170.8 277.1,165.8 413.1,166.7 420.0,151.6 311.8,147.0 178.9,174.5 227.8,170.1 171.5,183.4 495.3,167.8 446.5,166.8 164.8,185.9 544.6,151.1 227.7,168.9 151.0,204.3 389.4,150.9 194.2,171.0 217.3,169.1 299.5,165.6 316.7,166.1 200.9,140.1 153.2,201.4 213.0,170.9 278.9,145.1 153.0,203.1 457.9,152.0 314.2,166.2 193.9,133.5 317.1,146.7 256.3,144.1 188.2,173.0 265.0,165.0 254.7,144.4 472.5,153.0 342.6,147.9 195.5,138.5 275.7,144.9 232.2,167.3 182.9,176.5 344.4,148.6 245.0,165.9 146.2,122.3 364.9,166.0 179.4,124.9 366.6,149.5 158.0,126.4 173.6,125.3 205.7,139.0 371.9,166.6 464.7,167.4 163.1,124.7 169.6,181.4 274.1,145.3 140.9,220.9 541.6,151.5 339.4,166.6 365.7,149.7 143.4,217.0 152.5,128.4 477.9,152.8 214.9,142.4 480.9,167.2 300.2,146.1 266.7,145.2 468.9,167.4 140.1,216.2 239.9,143.2 283.5,165.7 140.8,209.5 219.1,169.8 542.4,151.6 273.2,145.4 148.3,145.8 212.1,140.5 305.0,166.2 468.4,166.8 153.4,129.2 374.6,150.0 341.9,148.4 427.9,151.9 250.0,166.2 481.3,152.9 144.4,218.0 257.4,165.4 534.4,168.3 161.7,123.2 508.7,152.6 139.7,215.5 202.7,170.4 324.8,147.1 531.1,168.5 159.0,195.4 396.1,151.3 235.7,168.1 557.3,150.2 233.6,143.2 334.0,166.5 280.9,145.5 203.5,169.5 188.0,169.5 297.3,165.5 429.3,152.1 170.6,182.6 223.4,141.3 145.7,150.5 144.9,216.9 292.8,145.8 148.3,213.0 342.2,166.8 198.3,170.1 422.7,166.2 204.4,169.1 358.2,149.1 437.9,167.1 199.2,136.3 250.3,166.2 279.7,165.8 363.3,166.6 452.7,152.1 388.0,150.6 197.8,169.8 557.7,150.5 486.4,152.6 218.3,169.1 204.0,140.8 390.9,150.5 189.9,172.6 164.0,126.2 235.3,140.8 205.3,139.3 425.6,166.8 388.2,150.7 490.9,167.2 458.1,152.5 169.0,185.2 387.7,166.3 243.2,165.8 348.0,166.6 142.0,218.7 209.5,141.6 331.9,147.3 405.7,151.8 159.2,122.9 267.0,144.8 306.8,165.7 185.1,174.2 529.2,152.1 509.7,168.1 283.1,145.4 319.0,146.5 453.0,152.3 177.5,126.1 139.6,152.0 552.0,169.9 171.1,123.6 383.0,166.5 195.2,136.6 434.5,166.6 416.2,166.4 229.9,143.1 262.6,144.5 392.0,166.7 136.8,132.3 143.9,126.9 165.2,189.5 207.9,168.5 407.0,166.5 199.9,139.2 227.4,143.1 187.7,171.1 205.3,170.3 165.9,125.3 515.9,168.2 361.6,166.5 208.9,140.5 232.1,166.5 160.0,191.4 362.7,149.6 321.3,166.4 172.4,181.3 143.0,215.3 183.3,174.5 191.2,134.3 233.0,141.5 484.0,167.7 274.9,165.3 244.4,143.5 149.1,141.4 507.8,167.7 406.1,166.4 554.8,150.5 183.6,172.1 168.0,122.7 390.4,150.6 422.5,166.3 280.1,165.7 330.6,147.6 154.2,109.9 157.4,196.2 532.7,151.5 154.2,129.5 203.1,167.8 376.0,150.3 544.6,151.1 329.6,147.3 463.4,152.8 186.6,130.8 467.4,152.7 349.6,148.5 542.3,168.7 260.1,144.2 204.0,140.0 530.4,152.1 178.0,179.4 148.7,143.1 212.1,141.3 148.9,142.8 527.7,168.2 564.2,150.1 297.1,146.0 274.8,145.2 368.5,149.4 571.5,170.7 560.8,170.2 148.3,146.4 527.4,168.4 412.0,166.5 168.7,122.5 179.2,128.4 246.7,165.8 197.1,169.6 157.3,195.1 159.7,193.2 141.1,216.4 340.9,147.8 226.3,166.8 190.2,132.5 164.4,190.4 146.8,212.1 347.4,148.6 202.4,136.4 518.0,168.0 422.1,166.6 568.0,149.8 145.0,150.8 337.1,147.5 150.3,207.2 407.6,166.3 395.4,166.7 173.1,124.2 381.0,166.4 525.9,151.6 166.4,125.2 167.9,185.3 293.9,165.8 161.4,123.4 149.9,137.7 164.8,186.3 139.9,144.7 302.1,146.0 181.8,176.8 244.4,165.9 146.0,220.1 163.4,126.7 161.2,123.4 290.1,166.1 477.3,167.2 378.0,149.7 526.6,168.5 157.8,194.1 279.0,165.4 159.1,194.5 143.6,209.3 276.4,145.4 139.1,215.9 364.9,166.2 192.8,169.0 142.9,219.6 219.4,142.6 428.0,151.8 351.7,149.0 286.8,145.6 272.5,145.3 245.6,165.7 327.7,166.7 204.4,141.1 383.0,166.0 212.3,141.8 213.5,166.7 349.0,166.3 515.9,151.8 380.6,150.6 444.6,152.3 452.7,166.9 335.7,148.1 222.8,170.5 197.3,170.7 145.0,222.0 201.8,139.8 274.0,145.2 350.2,149.0 231.2,169.0 415.6,166.2 399.1,151.0 202.4,137.0 204.5,140.4 447.5,166.5 172.7,182.8 244.4,166.3 204.0,166.9 459.4,167.0 169.5,122.6 379.6,166.4 348.0,166.3 273.3,144.9 160.6,125.2 474.5,167.5 438.8,151.9 162.2,125.5 452.4,152.3 535.6,151.4 255.6,165.3 207.8,139.5 192.7,168.2 173.6,125.0 227.6,169.0 376.3,149.7 166.6,124.9 187.7,131.1 154.0,201.6 289.7,145.6 518.3,152.0 167.7,122.6 376.9,166.2 375.6,149.7 376.1,149.7 352.2,166.3 144.1,212.2 220.3,168.3 249.1,166.0 262.3,165.0 231.4,142.9 408.3,166.0 351.4,166.2 566.3,170.5 140.8,218.2 250.6,166.1 271.8,144.8 143.7,132.9 154.3,198.1 214.2,167.2 193.3,134.0 271.2,165.3 255.8,165.4 181.6,127.8 293.9,165.9 193.0,134.6 390.6,166.6 169.2,181.8 189.1,132.4 212.1,168.7 146.4,149.2 426.0,166.9 466.9,152.7 278.7,145.2 296.5,165.5 289.5,166.0 242.3,166.7 144.5,214.6 210.2,167.3 175.0,178.1 517.2,152.0 532.6,168.9 351.3,166.4 235.9,166.4 214.6,142.2 545.3,150.8 200.6,140.0 231.5,140.8 289.5,166.0 473.8,152.7 448.0,152.3 246.0,165.7 202.3,140.6 142.4,214.9 188.0,132.7 343.1,148.3 184.3,130.8 204.2,167.4 180.2,126.3 297.0,165.5 240.1,142.1 253.1,143.8 252.9,143.9 469.2,152.4 491.7,167.6 469.3,167.4 146.4,214.0 422.1,152.1 344.3,166.7 200.0,140.1 331.9,147.3 366.4,166.3 224.5,166.9 265.5,144.4 515.7,151.8 207.4,141.4 315.4,146.6 444.2,152.5 508.8,167.9 282.3,165.9 340.2,166.1 153.7,126.2 157.8,127.1 256.1,165.5 249.2,144.1 212.6,167.2 254.5,165.5 493.8,152.8 511.3,152.5 324.3,166.6 367.6,149.9 181.0,114.9 369.9,166.0 406.5,151.5 161.5,191.5 228.5,167.6 312.8,166.1 163.9,188.4 248.0,143.4 182.7,176.5 198.5,168.0 281.5,144.9 208.1,169.1 186.0,130.1 567.5,170.3 309.0,146.2 211.8,141.4 238.3,143.0 394.9,166.7 215.1,142.4 280.8,145.1 562.6,170.0 256.4,144.5 145.9,150.3 536.6,169.0 171.4,127.1 464.5,152.9 153.7,199.4 170.3,124.4 224.6,143.0 299.8,145.6 160.9,121.9 204.3,170.1 151.2,134.5 385.1,150.5 256.2,144.3 157.9,122.5 397.5,166.6 263.4,144.7 263.6,165.2 245.8,165.9 144.2,216.2 221.9,142.0 247.5,165.8 381.6,166.7 457.4,167.2 442.5,152.4 168.8,126.7 404.5,151.3 296.0,165.6 192.1,132.6 229.9,143.0 400.1,166.1 164.7,122.4 194.1,170.0 542.0,151.4 328.5,147.7 256.1,144.5 451.0,152.0 347.0,166.7 155.5,198.6 144.3,216.7 479.6,152.4 311.8,146.5 189.9,171.7 226.9,142.9 143.1,218.0 246.8,143.7 243.5,166.1 296.6,166.1 396.3,166.3 235.8,166.2 440.9,166.5 167.5,122.2 226.6,141.7 219.4,169.1 244.2,165.8 170.3,122.7 323.1,146.9 174.6,126.3 169.8,184.6 530.0,151.7 159.9,123.6 565.4,149.9 213.1,142.0 159.1,195.1 172.9,123.4 193.1,133.4 255.1,144.1 201.2,137.7 227.6,142.7 165.1,187.2 366.4,149.8 192.2,137.1 243.8,165.9 388.7,166.0 563.3,150.1 205.7,140.9 369.9,149.8 175.7,126.3 250.0,165.7 530.5,151.4 509.5,152.6 263.4,144.6 175.9,179.1 165.9,189.0 438.6,152.0 355.3,166.0 528.2,168.5 230.1,167.6 170.4,123.0 446.7,166.5 149.5,140.7 175.5,178.8 276.1,145.4 377.4,166.0 285.1,145.6 217.1,168.4 303.7,165.8 467.7,152.6 483.0,167.7 259.0,143.8 151.3,203.5 167.8,186.7 271.8,165.1 513.9,168.3 181.2,128.8 237.0,167.2 204.5,168.4 239.5,166.9 410.9,152.2 487.2,167.4 146.6,212.4 427.6,166.6 238.4,167.0 220.1,142.4 349.9,166.7 152.4,129.5 297.6,166.2 174.0,128.0 159.1,125.2 141.5,151.1 473.8,167.0 514.7,152.1 168.1,126.5 377.0,150.0 347.9,166.3 198.8,169.3 446.3,167.1 310.7,146.7 317.5,166.1 438.7,151.8 358.2,148.7 486.1,152.8 188.3,169.5 212.0,169.4 184.6,173.4 370.2,166.4 202.6,170.2 497.6,167.3 239.4,142.9 393.2,150.9 451.0,166.8 284.4,165.3 472.9,152.3 342.4,166.4 275.9,165.0 159.8,192.7 421.6,166.4 160.5,194.1 312.9,146.5 394.7,166.6 209.9,168.7 304.7,165.9 154.2,128.5 368.4,166.6 487.4,167.2 543.6,168.8 496.2,152.4 329.2,147.6 240.9,166.5 353.0,166.4 288.0,145.5 217.2,167.2 240.3,166.4 541.2,151.7 496.8,152.7 169.9,126.5 398.5,166.3 388.0,166.6 444.6,166.5 539.5,151.6 181.0,126.2 322.8,166.3 208.6,141.3 472.9,167.6 550.9,150.7 216.3,142.4 184.9,131.3 354.0,149.0 345.4,166.6 412.6,166.1 315.2,166.2 198.2,172.0 281.5,165.5 205.2,137.6 155.6,123.7 359.8,149.0 144.2,150.6 248.3,165.6 221.6,170.5 224.9,141.9 170.3,182.4 498.8,167.6 557.8,169.5 332.8,166.8 416.8,166.7 501.6,167.5 152.2,203.6 223.9,142.7 327.9,147.2 303.5,166.2 494.3,167.2 196.3,171.3 150.8,203.8 356.0,166.7 494.2,152.8 137.5,222.0 157.0,194.7 145.4,150.3 284.7,165.6 242.2,143.6 164.9,190.5 145.0,150.5 540.8,168.7 492.7,167.4 562.8,149.9 286.0,166.0 373.6,166.1 230.2,143.6 172.1,183.4 191.2,132.0 179.8,178.5 294.4,145.5 284.5,165.4 173.8,124.5 411.6,151.6 141.3,216.9 167.1,124.8 210.4,168.8 164.8,125.4 418.1,152.2 322.5,147.0 326.2,166.6 252.6,144.4 333.7,166.5 351.4,148.6 260.4,165.3 179.2,178.6 154.1,198.4 162.7,188.8 523.8,168.4 366.5,166.5 155.1,124.9 157.4,194.1 140.5,217.0 214.0,142.1 320.6,146.9 496.1,167.5 330.3,166.2 205.3,167.5 527.7,168.6 165.6,185.2 327.5,166.2 311.6,146.5 295.7,146.1 273.4,165.2 277.6,144.8 237.5,166.8 293.8,166.1 250.3,143.3 187.9,132.4 322.2,166.3 536.3,151.8 215.0,142.6 191.4,168.8 194.2,170.5 268.1,165.5 303.1,145.8 183.7,176.6 468.7,152.3 334.9,147.6 169.9,122.9 453.0,152.1 172.8,123.2 477.0,152.7 282.6,165.7 153.2,199.8 337.0,147.9 550.8,150.8 408.4,166.1 150.9,132.4 277.3,145.2 227.9,142.8 147.2,147.3 164.0,124.5 227.7,142.7 191.2,132.8 172.5,182.7 294.7,165.8 149.7,207.5 271.7,144.4 238.5,143.5 151.9,204.0 291.9,145.3 219.5,142.8 300.2,165.6 519.7,151.9 509.9,152.6 334.4,166.6 191.7,171.2 226.5,141.9 436.0,152.4 242.2,166.9 463.1,167.2 199.1,139.0 565.4,150.3 347.4,166.7 229.3,143.4 158.0,196.0 150.3,137.7 352.2,166.0 191.7,171.2 139.9,152.1 256.8,165.7 275.0,165.3 188.0,131.9 227.2,168.8 318.9,166.3 207.7,170.0 144.6,215.4 494.0,152.9 144.1,150.6 310.3,166.0 544.5,151.6 283.1,145.6 515.4,168.1 143.0,210.9 169.4,124.2 220.4,170.9 160.4,124.7 231.0,166.7 531.1,151.6 183.5,131.3 200.0,138.9 301.6,166.0 199.8,138.4 259.1,165.6 188.0,131.9 335.1,147.8 145.3,214.8 285.7,165.3"/>
<polygon fill="#000" points="138.0,157.0 141.0,155.9 144.0,154.9 147.0,153.7 150.0,152.5 153.0,147.5 156.0,143.7 159.0,142.7 162.0,141.7 165.0,140.6 168.0,140.2 171.0,140.2 174.0,140.1 177.0,140.0 180.0,140.9 183.0,141.9 186.0,142.8 189.0,143.6 192.0,144.4 195.0,145.1 198.0,145.9 201.0,146.6 204.0,147.0 207.0,147.4 210.0,147.9 213.0,148.3 216.0,148.8 219.0,149.1 222.0,149.3 225.0,149.4 228.0,149.5 231.0,149.6 234.0,149.8 237.0,149.9 240.0,150.0 243.0,150.2 246.0,150.3 249.0,150.5 252.0,150.6 255.0,150.7 258.0,150.9 261.0,151.0 264.0,151.2 267.0,151.3 270.0,151.3 273.0,151.4 276.0,151.5 279.0,151.6 282.0,151.7 285.0,151.8 288.0,151.9 291.0,152.0 294.0,152.0 297.0,152.1 300.0,152.2 303.0,152.3 306.0,152.4 309.0,152.5 312.0,152.6 315.0,152.7 318.0,152.7 321.0,152.8 324.0,152.9 327.0,153.1 330.0,153.2 333.0,153.3 336.0,153.4 339.0,153.5 342.0,153.6 345.0,153.7 348.0,153.8 351.0,153.9 354.0,154.0 357.0,154.2 360.0,154.3 363.0,154.4 366.0,154.5 369.0,154.6 372.0,154.7 375.0,154.8 378.0,154.9 381.0,155.0 384.0,155.1 387.0,155.3 390.0,155.4 393.0,155.5 396.0,155.6 399.0,155.7 402.0,155.8 405.0,155.9 408.0,156.0 411.0,156.1 414.0,156.1 417.0,156.2 420.0,156.2 423.0,156.2 426.0,156.2 429.0,156.2 432.0,156.3 435.0,156.3 438.0,156.3 441.0,156.3 444.0,156.4 447.0,156.4 450.0,156.4 453.0,156.4 456.0,156.4 459.0,156.5 462.0,156.5 465.0,156.5 468.0,156.5 471.0,156.6 474.0,156.6 477.0,156.6 480.0,156.6 483.0,156.7 486.0,156.7 489.0,156.7 492.0,156.6 495.0,156.6 498.0,156.5 501.0,156.4 504.0,156.3 507.0,156.3 510.0,156.2 513.0,156.1 516.0,156.1 519.0,156.0 522.0,155.9 525.0,155.9 528.0,155.8 531.0,155.7 534.0,155.6 537.0,155.6 540.0,155.5 543.0,155.2 546.0,155.0 549.0,154.8 552.0,154.5 555.0,154.2 558.0,154.0 561.0,153.8 564.0,153.5 567.0,153.2 570.0,153.0 573.0,152.8 576.0,152.5 576.0,168.3 573.0,168.0 570.0,167.8 567.0,167.5 564.0,167.2 561.0,166.9 558.0,166.7 555.0,166.4 552.0,166.1 549.0,165.8 546.0,165.6 543.0,165.3 540.0,165.0 537.0,164.9 534.0,164.8 531.0,164.7 528.0,164.6 525.0,164.5 522.0,164.4 519.0,164.3 516.0,164.2 513.0,164.1 510.0,164.0 507.0,163.9 504.0,163.8 501.0,163.7 498.0,163.6 495.0,163.5 492.0,163.4 489.0,163.3 486.0,163.2 483.0,163.1 480.0,163.1 477.0,163.0 474.0,162.9 471.0,162.8 468.0,162.7 465.0,162.7 462.0,162.6 459.0,162.5 456.0,162.4 453.0,162.3 450.0,162.3 447.0,162.2 444.0,162.1 441.0,162.0 438.0,161.9 435.0,161.9 432.0,161.8 429.0,161.7 426.0,161.6 423.0,161.5 420.0,161.5 417.0,161.4 414.0,161.3 411.0,161.2 408.0,161.2 405.0,161.1 402.0,161.1 399.0,161.0 396.0,161.0 393.0,160.9 390.0,160.9 387.0,160.8 384.0,160.8 381.0,160.7 378.0,160.7 375.0,160.7 372.0,160.6 369.0,160.6 366.0,160.5 363.0,160.5 360.0,160.4 357.0,160.4 354.0,160.3 351.0,160.3 348.0,160.2 345.0,160.2 342.0,160.1 339.0,160.1 336.0,160.0 333.0,160.0 330.0,160.0 327.0,159.9 324.0,159.9 321.0,159.8 318.0,159.8 315.0,159.7 312.0,159.7 309.0,159.6 306.0,159.6 303.0,159.6 300.0,159.5 297.0,159.5 294.0,159.4 291.0,159.4 288.0,159.3 285.0,159.3 282.0,159.2 279.0,159.2 276.0,159.2 273.0,159.1 270.0,159.1 267.0,159.0 264.0,159.0 261.0,159.1 258.0,159.2 255.0,159.3 252.0,159.4 249.0,159.5 246.0,159.6 243.0,159.7 240.0,159.8 237.0,159.8 234.0,159.9 231.0,160.0 228.0,160.1 225.0,160.2 222.0,160.3 219.0,160.4 216.0,160.5 213.0,160.6 210.0,160.7 207.0,160.7 204.0,160.8 201.0,161.0 198.0,161.4 195.0,161.9 192.0,162.3 189.0,162.7 186.0,163.1 183.0,163.5 180.0,164.7 177.0,165.9 174.0,167.1 171.0,168.4 168.0,169.7 165.0,171.1 162.0,172.5 159.0,173.9 156.0,178.0 153.0,182.1 150.0,186.9 147.0,192.4 144.0,197.9 141.0,203.2 138.0,205.0"/>
<polyline class="pb" points="461.2,159.9 570.5,157.1 357.3,156.9 157.7,147.3 209.3,153.7 250.7,154.7 173.7,147.5 155.6,149.7 252.8,155.9 405.5,158.7 262.9,156.0 139.6,174.4 465.0,159.7 550.8,161.6 247.6,155.1 496.7,160.2 314.6,156.1 508.8,159.9 186.2,147.3 419.7,158.6 242.1,153.6 476.6,159.8 180.3,146.7 489.7,160.3 162.0,147.0 382.3,158.0 401.9,158.2 249.0,156.2 431.1,159.0 308.1,156.0 444.8,158.9 189.3,158.1 431.6,158.8 361.6,157.5 461.9,159.4 185.5,158.5 263.0,155.3 190.2,149.5 152.6,154.9 268.9,154.7 309.0,156.0 168.5,146.7 229.6,154.1 171.2,163.1 568.4,158.9 371.1,157.7 438.8,158.9 511.3,159.8 261.1,154.7 388.6,158.1 563.3,157.5 182.8,146.4 490.9,160.4 365.8,157.4 246.5,156.5 522.8,161.2 406.9,158.2 426.1,159.0 144.9,191.7 344.8,157.0 207.4,155.2 323.0,156.8 323.2,156.1 438.7,159.4 388.9,158.2 434.0,159.1 323.9,156.8 401.0,158.0 197.7,157.9 192.0,157.9 458.5,159.3 547.5,161.2 145.9,160.0 531.2,161.6 370.3,157.3 227.8,154.5 155.7,172.3 211.7,154.1 197.4,156.2 506.3,159.8 385.4,158.4 183.9,148.8 218.7,155.0 366.0,157.4 174.2,147.7 419.9,158.7 142.5,161.1 348.0,157.0 229.7,155.1 350.6,156.9 439.4,158.9 155.9,148.0 437.2,159.3 194.7,149.4 220.5,155.5 218.9,155.8 211.2,153.8 158.8,147.7 476.1,159.9 335.9,156.5 258.6,156.1 226.3,154.5 238.2,153.4 193.2,148.4 276.8,155.1 462.5,159.7 307.2,156.0 224.2,154.5 460.5,159.5 163.3,145.7 168.5,147.4 198.8,155.8 139.6,189.4 225.0,155.0 339.6,157.1 365.7,157.6 318.9,156.5 248.5,154.9 165.3,144.2 322.0,156.5 309.7,156.6 207.0,154.3 226.2,155.9 237.2,153.7 225.1,156.1 247.6,154.9 373.8,157.4 166.6,166.4 183.5,157.0 368.9,157.2 141.6,162.1 421.0,159.2 166.9,147.4 181.2,160.5 273.6,155.0 140.3,200.6 150.2,155.8 243.9,154.8 284.4,155.5 376.6,157.9 162.9,166.5 154.9,150.8 157.7,147.5 323.3,156.4 223.3,155.9 389.2,158.0 367.8,157.9 269.2,154.8 202.6,150.6 286.3,155.7 571.0,161.5 241.8,155.5 288.3,155.6 180.1,147.4 300.7,155.3 323.7,156.6 145.5,161.0 298.0,155.8 406.0,158.4 262.9,156.0 268.9,155.1 337.2,156.5 377.7,157.9 517.6,159.2 174.5,160.9 164.5,147.9 220.1,155.3 443.7,159.2 274.1,155.2 457.1,159.1 217.0,154.8 254.9,153.8 376.8,157.9 154.3,176.4 167.0,147.4 574.4,162.9 489.8,159.7 273.1,155.1 218.5,156.1 140.3,192.7 238.6,156.3 160.4,145.8 253.6,153.8 160.0,169.0 153.2,153.9 140.7,187.4 154.6,149.6 367.3,157.5 346.2,156.8 533.1,159.9 140.1,178.8 161.7,165.6 216.7,155.9 241.9,156.1 402.5,158.2 261.3,154.6 199.6,157.4 181.9,147.3 560.8,159.5 235.1,155.5 422.5,159.2 451.5,159.7 276.5,155.8 184.3,158.1 227.7,153.1 382.7,157.8 157.6,149.8 411.0,158.6 522.6,160.1 163.3,145.3 492.0,160.3 215.8,156.3 360.1,157.1 447.2,159.4 337.1,156.6 318.1,155.9 176.8,146.6 229.3,153.6 456.4,159.4 150.5,179.5 161.9,149.0 156.6,150.0 452.1,159.1 194.8,156.4 156.2,149.4 212.0,153.8 195.7,157.4 164.6,146.0 531.4,159.0 460.9,159.6 252.5,154.7 200.4,152.5 355.7,157.4 205.3,154.4 295.2,155.7 441.4,159.4 377.6,157.4 377.2,157.8 319.0,156.4 500.4,160.2 140.0,182.7 315.1,156.4 222.5,155.3 301.1,155.8 200.8,154.1 272.4,155.7 514.6,160.4 237.0,154.2 249.4,154.2 327.1,156.8 236.7,155.2 216.8,155.2 254.1,154.4 279.1,155.3 224.9,154.7 523.4,159.6 168.3,146.6 185.9,155.9 195.6,154.8 545.6,159.5 266.5,155.2 211.3,152.8 205.9,154.6 347.1,157.2 218.1,153.6 139.9,193.0 368.5,157.4 191.0,155.9 269.3,155.5 373.4,157.5 157.9,149.4 313.1,156.7 271.4,154.5 565.2,158.0 364.2,157.5 286.6,155.6 441.0,158.9 440.1,159.3 378.2,158.2 215.9,152.8 214.1,152.8 144.9,192.7 366.8,157.5 142.8,161.3 228.4,152.6 154.7,174.9 314.5,156.4 210.2,151.8 141.3,198.1 218.4,153.8 246.7,156.1 240.0,156.5 312.4,155.6 430.3,159.0 383.2,158.0 263.1,154.3 265.5,155.6 353.9,157.0 208.7,154.2 152.5,175.8 526.1,159.3 337.4,157.0 399.7,158.6 181.0,158.6 287.9,155.2 429.6,158.8 185.1,148.8 284.3,156.1 395.6,158.3 228.7,156.1 424.4,159.1 198.1,150.1 140.5,177.1 477.3,159.5 223.0,154.2 339.2,156.7 388.4,158.3 275.7,154.7 527.6,160.3 173.5,160.6 360.2,157.6 327.1,156.4 192.4,157.9 162.4,146.7 245.7,155.3 201.6,155.5 164.0,167.7 140.7,197.3 246.8,153.9 231.5,156.4 324.3,156.0 193.3,156.2 228.3,153.5 272.5,154.9 414.6,159.0 483.6,159.9 446.4,159.4 170.7,161.7 424.8,158.7 465.6,160.0 388.6,158.3 394.1,158.4 322.6,156.4 364.1,157.3 222.7,156.5 385.6,158.2 153.9,176.9 140.6,197.8 304.0,155.9 309.8,155.5 341.1,156.6 141.2,180.3 323.9,156.1 181.0,147.0 219.2,154.1 173.8,145.6 236.6,153.7 333.8,156.9 436.0,159.1 301.2,156.3 225.6,155.0 371.7,157.4 162.6,166.6 242.0,154.5 198.8,156.2 280.8,156.1 193.4,148.4 182.7,160.1 396.2,158.4 306.9,155.7 295.9,155.9 174.0,161.4 553.4,161.2 181.9,160.6 160.0,147.3 144.0,192.9 210.9,154.0 248.8,155.8 172.8,146.0 342.8,156.5 424.6,158.6 163.8,167.5 179.9,144.8 186.5,150.0 482.1,160.3 237.2,154.5 193.3,150.6 191.4,148.3 193.4,149.9 184.5,157.7 531.8,161.6 165.8,146.8 277.0,155.3 261.0,155.6 390.6,157.9 205.4,152.7 303.1,155.7 442.2,159.6 309.2,155.8 348.1,157.1 274.4,155.0 289.1,155.3 334.7,156.7 404.8,158.2 177.7,161.7 247.3,154.8 387.3,157.8 376.8,157.6 369.7,158.0 500.0,159.8 480.3,159.5 194.0,151.0 194.5,156.0 168.3,147.1 140.9,186.3 286.7,155.1 433.9,158.7 351.7,157.2 278.6,156.2 508.4,159.7 277.6,154.7 281.1,156.1 288.5,155.3 175.0,160.9 255.4,155.7 305.1,155.4 436.7,159.3 223.9,154.4 246.7,156.0 205.4,153.4 244.2,156.1 393.8,158.2 334.4,156.9 141.8,196.0 171.1,162.9 276.5,155.5 188.1,149.2 154.0,175.8 239.7,155.1 161.1,169.4 359.2,157.0 185.4,156.4 241.0,156.4 169.2,144.5 395.4,158.5 285.8,155.2 174.7,146.0 531.4,160.1 307.1,156.0 257.5,154.7 201.1,154.2 302.5,155.4 368.7,157.8 140.7,171.4 442.5,159.6 176.1,159.0 140.4,198.6 140.2,198.3 300.3,155.7 556.9,160.2 269.4,154.9 146.1,187.5 311.2,155.6 236.3,154.8 311.6,156.4 321.6,156.2 379.8,158.2 325.3,156.2 232.8,155.2 143.8,158.7 381.1,158.2 267.6,154.5 319.1,156.1 556.0,160.0 424.6,159.2 367.1,157.9 154.7,150.5 348.7,156.9 522.4,159.2 421.7,159.2 330.0,156.5 290.3,155.4 236.7,156.3 145.4,189.1 377.6,157.4 291.3,156.3 426.4,158.5 274.0,154.9 294.3,156.2 326.2,156.4 206.2,152.7 355.5,156.9 377.6,157.8 463.5,159.6 337.7,156.8 281.0,156.2 162.9,166.8 222.7,155.5 326.4,156.2 355.5,156.8 309.6,155.6 221.9,153.3 278.1,155.8 140.9,181.2 218.0,154.0 164.7,166.4 301.3,156.2 382.3,158.2 502.0,160.2 532.3,158.7 300.8,156.1 500.4,160.3 427.1,158.9 155.7,172.9 180.7,159.3 188.6,157.1 435.7,158.9 555.5,160.8 547.9,161.5 365.3,157.2 290.9,155.1 150.6,158.7 348.4,156.7 274.5,154.8 160.7,146.7 140.3,191.9 471.7,159.9 392.0,158.3 545.0,161.7 348.8,156.9 380.8,158.3 492.8,160.4 155.7,149.7 379.6,157.6 179.6,146.7 432.8,159.0 291.7,155.6 215.0,153.2 197.3,157.8 183.9,156.6 294.7,156.2 501.0,160.1 362.7,157.5 258.4,156.0 168.2,162.2 537.0,159.5 209.3,155.2 396.8,158.4 440.0,159.0 350.2,156.8 193.6,150.6 183.0,149.3 417.9,158.6 191.2,158.0 341.4,156.5 143.2,193.1 410.0,158.8 296.8,155.8 236.0,153.5 280.6,154.7 261.1,154.4 310.0,155.7 142.8,161.3 294.0,155.2 203.4,151.5 287.9,155.2 270.3,155.0 323.3,156.6 234.7,156.3 269.5,155.7 386.6,158.0 326.6,156.8 327.5,156.1 220.0,156.9 145.3,161.9 565.2,160.4 384.1,157.8 399.6,158.3 159.4,147.4 375.8,158.0 196.1,156.1 507.7,160.8 178.5,144.4 253.2,155.7 344.0,156.8 304.1,155.7 321.8,156.3 274.9,156.0 180.2,161.3 161.6,145.9 215.9,156.1 440.1,159.5 141.9,162.5 318.1,156.3 429.2,159.3 151.8,177.3 480.8,160.1 392.1,157.8 444.1,159.2 140.5,162.8 243.9,153.9 185.3,147.9 442.3,159.5 207.2,156.2 187.0,149.0 460.5,159.4 259.8,156.1 170.1,161.8 382.5,157.7 537.9,160.7 198.3,150.3 159.9,169.6 359.8,157.4 212.9,154.5 442.3,159.3 180.3,159.5 467.2,159.5 172.9,145.7 167.0,144.2 179.5,159.8 492.3,160.1 351.1,157.3 163.6,148.4 493.9,160.4 217.9,156.5 223.5,154.7 149.2,160.1 333.7,156.3 149.4,182.1 450.4,159.7 230.9,152.8 337.9,157.1 325.8,156.1 289.1,156.2 149.5,183.1 254.0,155.2 182.4,148.8 303.7,156.3 367.2,157.3 200.8,155.9 182.5,156.7 361.0,157.5 432.9,158.9 541.4,162.0 176.4,159.7 240.6,155.0 197.1,157.7 153.0,178.5 145.5,187.6 241.0,154.1 272.8,155.7 477.3,159.8 308.4,156.2 139.8,185.7 139.5,162.9 543.1,158.4 178.2,144.6 225.0,155.4 140.8,176.8 305.6,156.5 178.4,159.7 246.0,156.5 392.9,157.9 385.2,157.8 166.4,145.7 346.4,157.0 376.2,157.9 263.4,155.1 356.7,157.4 436.7,159.2 372.0,157.7 372.6,157.3 486.6,159.6 328.8,156.1 372.9,157.3 391.8,158.4 387.1,157.7 158.7,169.8 192.1,154.7 265.0,154.6 302.3,156.3 152.7,175.0 568.1,160.3 473.5,159.3 140.3,198.8 565.0,157.9 463.6,159.7 329.3,156.7 217.5,155.3 344.5,156.9 327.5,156.2 377.8,157.9 201.6,154.2 356.4,157.3 205.5,153.4 168.6,143.9 383.0,158.2 565.7,160.6 188.2,146.7 211.3,152.7 291.7,156.3 431.5,159.3 330.0,156.3 222.2,156.8 177.5,145.0 306.2,156.2 494.7,159.8 206.7,154.4 215.6,155.7 216.1,153.4 178.3,159.4 334.5,157.0 167.7,164.5 319.8,156.2 223.2,156.3 258.3,155.5 264.3,155.9 231.2,154.4 251.9,155.1 205.9,151.1 174.9,163.4 165.1,166.5 177.8,144.7 267.0,154.3 213.5,155.2 337.0,157.1 405.9,158.4 198.2,152.5 458.8,159.2 251.7,155.7 146.1,159.6 192.8,150.8 333.5,156.8 496.8,160.2 149.0,183.0 187.5,149.2 315.8,156.6 183.2,156.7 184.7,158.2 217.3,154.2 361.5,157.4 162.3,146.0 309.9,156.0 399.8,158.1 299.9,156.0 181.3,157.9 427.3,158.8 140.2,176.3 337.3,156.9 189.0,149.7 352.5,156.9 485.5,160.0 140.3,196.3 194.2,156.4 570.3,157.4 292.7,155.5 159.0,148.9 224.6,154.1 507.6,160.1 507.7,159.7 473.7,159.8 194.3,149.2 459.4,159.5 170.8,163.8 321.1,156.4 285.1,156.3 413.1,158.7 154.3,149.7 166.0,145.5 215.0,154.7 289.7,156.0 270.9,155.5 382.6,157.9 355.5,157.4 498.3,160.0 395.5,158.5 307.7,156.0 356.3,157.2 253.8,155.6 247.8,154.5 275.9,154.8 221.5,154.7 233.1,154.5 195.5,156.1 366.8,157.1 232.5,155.6 284.5,155.3 257.6,156.1 284.3,155.1 377.0,157.8 560.7,161.8 356.3,157.0 239.1,156.0 477.2,159.9 431.7,158.9 487.0,159.7 210.7,152.6 233.7,154.0 236.5,156.2 353.9,157.0 185.2,149.0 458.6,159.3 209.5,151.4 505.1,160.2 278.5,155.9 443.5,159.6 354.8,157.6 148.7,156.5 299.3,155.3 242.7,155.7 168.6,164.4 395.7,157.9 220.9,156.8 391.7,158.5 377.5,157.7 140.9,199.5 212.2,154.9 385.9,157.9 157.4,169.9 183.1,148.8 425.4,158.5 420.7,159.2 139.7,179.7 564.6,159.4 198.6,152.5 415.8,158.8 371.1,157.7 397.7,158.3 158.0,148.0 523.3,159.4 293.9,155.5 141.2,194.7 344.6,156.7 522.4,161.4 244.4,153.6 170.9,146.2 339.8,157.2 279.1,155.4 413.0,158.9 269.0,155.9 195.7,151.1 150.7,180.6 254.6,153.7 146.7,187.3 416.0,158.4 334.3,157.0 494.0,160.1 158.1,148.3 338.0,156.9 388.9,158.2 373.5,157.4 252.5,156.2 299.5,155.7 245.0,156.2 141.8,160.4 251.8,154.6 220.8,157.0 166.2,164.5 487.3,160.1 332.9,156.6 357.2,157.6 277.1,155.6 242.7,153.9 161.5,168.2 282.3,155.8 220.3,155.5 372.7,157.4 260.0,155.5 292.5,155.3 185.2,147.8 359.2,157.2 517.9,159.0 310.7,156.4 151.6,155.3 273.8,154.9 505.4,159.3 271.3,154.6 299.2,156.1 553.3,158.0 186.3,157.1 235.8,155.3 191.1,155.6 389.5,157.8 369.2,157.8 239.8,153.1 544.7,160.1 444.1,159.3 158.1,168.2 302.4,156.4 265.0,154.8 201.7,154.4 222.1,155.4 159.6,169.7 306.1,155.9 252.6,154.6 139.2,190.8 382.0,158.1 416.3,159.1 442.3,159.6 312.1,156.6 259.3,154.4 286.6,155.0 170.7,163.5 205.5,152.4 151.1,179.2 227.9,154.6 373.8,157.6 237.1,153.8 308.4,155.5 433.7,158.7 162.9,147.4 189.4,150.3 334.9,157.1 505.6,160.0 151.9,178.3 217.4,154.0 228.9,153.6 140.5,164.7 166.4,164.1 141.4,178.7 260.2,156.1 219.1,153.7 220.8,153.7 233.0,153.5 544.3,158.6 498.1,160.0 258.1,154.1 323.3,156.6 557.5,161.4 202.0,155.9 264.1,155.4 253.7,155.6 422.2,158.5 466.0,159.8 472.4,160.1 218.9,155.0 180.4,160.5 325.1,156.6 351.5,157.1 172.2,164.2 197.9,153.1 402.6,158.7 409.8,159.0 201.5,157.0 231.7,155.4 303.0,156.0 258.2,154.3 322.4,156.7 517.5,160.6 149.6,156.7 183.7,158.2 150.8,180.4 350.6,157.3 205.1,153.2 265.6,154.9 140.4,171.5 289.4,155.8 424.9,159.2 245.2,155.4 542.5,159.2 531.0,160.5 360.8,157.4 291.5,156.3 373.5,158.0 477.1,159.6 375.9,157.6 149.2,181.7 552.7,160.3 524.7,160.2 311.7,156.4 247.9,155.8 541.2,159.0 288.9,156.0 173.5,161.7 195.3,152.1 171.4,164.9 233.0,155.2 195.7,156.7 213.6,152.8 243.4,156.2 166.5,144.2 154.8,151.2 284.2,156.0 264.9,155.6 519.7,159.9 301.3,155.6 564.3,160.1 196.3,152.6 335.2,157.0 215.7,153.7 195.9,150.2 499.7,160.1 170.9,147.0 171.2,144.0 243.0,155.6 514.4,160.2 243.5,153.9 466.8,160.0 219.3,153.8 420.2,158.9 402.4,158.5 544.1,161.1 229.0,157.1 407.8,158.7 198.9,155.6 202.2,153.6 513.2,159.4 167.6,163.9 269.0,154.7 225.4,156.5 484.6,160.2 319.4,156.7 181.4,160.7 224.1,153.3 260.8,154.4 376.6,157.5 264.5,155.0 279.4,156.1 140.8,159.4 160.7,148.5 171.6,146.9 192.0,158.4 155.8,173.3 444.6,159.3 254.2,154.4 171.7,163.5 440.3,159.3 452.5,159.2 203.0,153.4 517.8,160.5 438.2,158.7 153.7,151.1 140.7,165.7 264.5,154.5 182.9,156.4 217.6,152.9 267.7,156.0 336.8,156.8 273.3,155.6 142.6,159.3 181.5,158.9 259.3,154.8 540.3,158.7 154.7,175.7 218.8,153.9 465.2,160.0 205.6,151.5 211.6,152.0 448.8,159.0 218.2,153.2 231.6,155.5 139.7,169.5 245.6,154.2 208.9,153.0 179.7,144.4 237.1,156.2 378.5,157.9 259.4,155.9 239.8,155.5 182.2,159.1 193.3,151.1 172.1,147.6 212.8,156.7 528.1,159.3 151.7,178.4 560.1,162.3 391.1,158.3 284.1,155.9 513.7,160.8 271.9,155.1 244.4,154.5 285.9,155.2 172.8,161.4 557.2,160.7 149.9,157.4 486.9,159.8 254.5,155.8 436.0,158.8 573.3,160.9 425.8,158.8 326.9,156.1 490.3,159.6 264.2,155.7 156.3,170.9 274.4,156.1 471.2,160.0 167.7,166.6 335.4,156.8 198.8,153.1 531.1,161.1 485.2,159.7 208.9,155.0 193.6,150.7 368.0,157.9 447.2,159.4 280.8,155.9 416.3,158.9 512.9,160.1 407.3,158.2 565.9,159.6 528.4,159.5 341.7,156.5 157.9,171.8 149.6,156.7 139.8,200.0 162.5,165.7 143.8,194.6 190.5,148.9 228.1,154.1 140.7,199.7 353.6,156.9 170.9,162.8 493.5,160.0 204.0,154.1 450.6,159.0 276.6,155.9 427.4,159.0 443.3,159.2 350.4,157.4 148.2,183.0 211.2,156.9 231.5,153.4 460.7,159.3 195.8,155.3 237.7,154.1 182.1,145.4 148.5,157.3 410.8,158.9 301.0,156.3 183.7,159.7 505.4,160.6 278.8,155.1 225.5,155.9 175.6,160.1 556.9,160.8 184.4,158.9 437.2,159.1 276.1,154.6 219.5,154.4 208.9,153.7 192.1,158.3 219.0,153.8 261.2,154.1 226.8,154.4 157.4,150.0 213.2,153.2 141.2,184.1 332.6,156.4 368.1,157.8 329.0,156.4 282.8,155.1 487.3,159.8 477.4,160.0 176.1,159.3 238.7,154.4 182.0,146.4 270.4,154.7 266.2,155.8 350.1,157.0 190.4,150.3 151.6,180.0 449.1,159.1 166.8,165.7 400.0,158.4 421.9,158.9 399.5,158.2 233.7,156.9 458.2,159.3 225.7,153.9 413.8,158.4 514.7,160.8 162.3,146.0 183.9,145.7 147.2,188.1 154.7,173.6 166.5,166.2 174.3,162.7 241.8,156.0 516.1,159.5 215.9,154.8 214.9,155.6 199.8,155.7 210.2,155.1 536.7,159.4 329.8,156.2 189.6,155.9 509.8,160.6 236.9,154.2 300.9,156.4 462.6,159.6 249.2,155.3 253.9,155.7 299.0,155.6 443.2,159.1 490.3,160.3 282.1,156.1 305.4,156.6 436.3,159.0 159.9,168.3 500.4,160.4 389.1,158.0 253.3,154.2 381.0,158.3 559.6,160.0 533.3,160.1 367.4,157.4 176.0,146.1 140.5,163.3 342.9,157.2 160.3,145.8 145.2,189.0 220.8,155.7 529.3,161.4 242.3,153.6 423.7,159.0 428.3,158.6 334.7,156.7 495.6,159.9 475.2,159.9 234.2,154.5 295.0,155.6 335.2,157.0 245.1,153.8 337.8,156.9 356.3,157.4 289.9,155.7 267.8,155.5 404.7,158.3 301.7,155.5 296.5,155.9 141.0,162.0 223.4,156.4 179.5,146.0 320.4,156.3 162.8,145.6 456.3,159.6 215.7,154.5 257.5,155.6 174.7,143.9 289.6,155.7 161.2,165.6 303.5,155.9 391.7,158.4 403.5,158.5 402.7,158.5 315.2,156.7 355.4,157.2 152.2,154.2 156.5,170.8 306.5,156.0 207.2,153.7 415.8,158.5 337.9,156.5 234.7,155.6 370.2,158.0 140.1,197.9 329.9,156.3 521.1,160.1 462.4,159.5 143.8,159.3 145.2,161.1 410.9,158.5 399.3,158.1 368.4,157.8 480.4,160.1 278.2,155.9 411.8,158.5 553.0,161.7 490.6,159.7 406.9,158.3 524.3,159.4 494.6,159.7 174.3,144.2 280.5,155.9 161.9,148.3 492.1,159.9 283.2,155.0 248.9,154.9 271.3,155.7 214.6,157.3 227.8,155.6 347.0,157.2 223.1,155.8 258.3,155.5 209.9,157.0 331.0,156.9 154.8,148.8 537.4,161.5 195.4,150.7 458.2,159.5 165.8,145.9 285.9,155.2 308.2,155.8 397.9,158.6 440.5,158.9 523.5,160.4 460.2,159.7 301.8,155.6 318.9,156.4 313.4,156.0 271.0,154.8 203.2,154.8 177.1,145.3 230.4,153.7 472.9,159.4 405.5,158.3 261.5,154.5 291.7,155.6 304.9,155.8 196.3,152.2 295.7,155.8 163.2,146.3 321.0,156.2 423.7,158.6 236.1,156.6 208.9,156.2 143.8,191.4 522.0,159.4 183.7,156.9 154.7,150.6 317.5,156.3 148.2,158.2 198.4,155.6 202.9,151.6 229.3,154.3 479.7,159.6 548.4,158.8 347.9,157.3 176.7,146.1 335.0,156.4 284.8,155.8 150.0,159.5 171.9,144.1 361.3,157.2 178.2,147.3 352.0,157.1 309.7,156.1 196.7,149.0 239.2,154.8 206.0,151.8 352.6,157.4 202.9,150.7 217.8,153.3 286.2,155.9 143.0,160.4 168.2,165.7 197.0,151.7 220.6,156.3 241.4,156.0 226.0,156.1 442.5,159.3 273.1,155.7 195.9,151.1 305.9,155.9 319.2,155.9 547.2,160.1 465.0,159.5 281.8,155.4 204.6,155.8 215.7,156.7 320.6,156.4 347.2,156.9 365.6,157.4 420.7,159.1 306.2,155.7 182.4,145.8 382.8,158.0 199.6,150.4 215.5,154.6 238.4,154.8 275.2,156.1 421.9,159.0 244.8,154.7 178.5,161.8 425.6,158.6 411.9,158.9 312.3,156.1 488.5,159.9 186.2,158.2 214.6,156.5 140.0,161.0 407.4,158.5 155.4,150.8 198.0,157.7 171.9,161.8 321.6,156.7 439.4,159.4 427.4,158.9 403.4,158.3 207.0,154.6 242.0,156.5 477.9,159.6 361.3,157.4 196.6,151.3 270.1,155.5 262.0,154.6 140.5,190.7 374.9,157.6 198.3,153.5 277.4,154.7 417.9,158.7 140.2,179.8 220.9,156.0 140.4,165.9 208.5,151.7 259.9,154.4 165.4,147.3 290.4,156.2 169.2,144.1 354.1,157.4 225.7,153.8 483.5,160.2 179.7,160.9 430.1,159.3 177.9,158.4 481.5,160.0 149.8,159.3 299.3,156.2 215.4,152.4 232.6,155.6 172.4,144.6 151.0,158.2 168.8,147.0 202.5,152.4 233.8,154.5 346.2,156.9 160.9,166.3 219.3,154.0 230.2,153.6 382.6,157.7 255.9,155.4 184.7,149.4 262.2,155.3 554.2,162.7 549.2,159.0 307.0,155.9 184.9,158.2 213.8,154.9 317.9,156.3 417.3,158.4 140.0,171.7 345.6,157.1 385.1,157.8 281.3,156.1 209.0,155.4 407.8,158.5 426.4,158.9 433.9,158.9 268.2,155.8 259.3,154.6 484.6,160.1 143.1,194.3 384.9,158.2 506.4,159.9 248.7,156.2 427.7,158.6 250.2,154.7 231.8,155.3 509.1,160.6 292.4,156.3 164.1,146.1 323.9,156.0 149.3,158.9 144.0,162.4 176.7,160.2 171.7,162.6 406.2,158.7 273.0,155.2 339.3,157.0 425.7,158.9 269.3,155.6 570.8,160.2 218.2,154.2 456.3,159.3 448.9,159.5 171.9,160.8 308.2,155.9 177.9,147.1 340.5,156.7 303.3,155.5 281.2,155.1 531.6,161.4 398.7,158.0 386.0,158.0 417.7,159.0 389.4,158.4 467.0,159.8 274.3,155.3 407.7,158.2 523.8,159.3 504.4,160.2 421.2,158.6 148.5,160.3 260.7,155.6 261.1,154.7 226.4,153.4 154.6,149.1 250.8,153.8 530.7,161.1 505.0,159.7 197.2,149.0 451.7,159.6 239.7,156.1 160.6,148.1 271.1,155.7 240.2,156.5 574.0,157.8 220.3,153.2 281.0,154.7 260.0,156.0 364.0,157.6 168.2,163.7 145.4,157.7 175.9,146.7 236.2,154.8 153.2,177.1 406.8,158.6 281.8,155.2 246.1,153.3 260.1,155.6 268.8,155.6 149.7,160.0 420.0,158.5 192.1,150.0 188.4,158.0 314.9,156.6 169.2,163.5 435.6,159.2 235.4,154.3 188.9,149.4 177.9,161.9 280.2,156.1 570.7,158.0 281.4,156.0 294.1,155.9 360.0,157.4 252.0,155.6 217.4,157.2 319.4,156.3 385.9,157.7 445.9,159.2 361.0,157.0 211.1,153.2 175.9,161.8 462.8,159.9 187.5,148.7 450.0,159.3 217.7,155.2 158.0,146.3 392.9,157.8 154.2,174.5 157.7,171.7 215.1,154.3 459.7,159.3 390.1,158.4 461.7,159.7 462.9,159.7 220.7,153.0 140.5,159.8 419.6,158.8 195.4,157.5 375.9,157.9 265.0,154.7 163.9,146.0 409.4,158.3 182.4,159.9 565.3,163.2 449.0,159.5 221.2,154.1 276.6,155.2 174.0,146.1 329.5,156.6 196.7,156.7 143.4,160.9 423.5,159.1 183.8,149.4 260.5,155.6 140.1,199.7 344.4,156.9 208.1,154.0 359.3,156.9 291.6,155.4 147.3,160.5 394.3,158.3 292.1,156.3 263.9,155.5 362.2,157.4 359.7,157.3 264.7,155.4 337.7,156.5 162.5,147.8 150.9,178.4 177.5,159.3 206.0,154.2 563.3,162.2 356.3,157.4 195.7,155.5 271.2,155.3 324.1,156.1 373.0,157.8 192.1,157.7 205.6,152.4 156.0,148.9 152.6,178.8 493.7,159.7 392.9,158.2 172.4,147.4 143.5,161.2 139.9,161.2 322.3,156.7 359.6,157.2 391.8,158.2 396.9,158.6 213.8,155.8 547.2,158.5 333.9,156.4 228.4,154.1 307.2,156.0 155.6,148.1 168.1,145.8 466.3,159.4 340.3,156.5 387.6,158.2 191.5,158.8 489.4,160.0 349.8,156.8 216.4,155.7 450.4,159.6 140.0,193.5 418.8,158.6 374.3,157.7 139.6,200.0 376.5,157.8 289.8,155.1 257.7,154.1 259.9,155.5 231.6,154.4 162.2,145.5 197.8,155.1 341.5,156.6 277.1,155.9 457.5,159.6 221.5,155.6 169.5,161.8 391.6,158.1 259.7,155.6 434.1,159.5 305.7,156.0 166.0,144.8 178.9,144.8 243.9,154.3 140.5,196.9 316.6,156.3 547.9,160.1 558.0,158.4 244.8,154.9 214.3,153.0 252.4,153.9 268.2,155.8 237.9,155.0 291.4,155.8 363.1,157.6 302.8,156.3 548.1,160.3 424.1,158.6 228.8,154.1 203.5,154.2 459.7,159.8 371.6,157.6 181.4,159.9 324.8,156.5 409.4,158.8 510.5,160.0 147.5,160.8 193.5,155.3 540.0,158.5 296.8,155.4 167.1,144.0 354.7,157.2 153.7,154.3 141.4,169.4 257.2,155.2 464.6,159.8 449.8,159.5 291.6,156.1 221.9,154.5 146.3,157.7 151.2,155.5 163.4,148.1 322.5,156.3 210.8,153.9 139.2,172.2 155.9,173.3 449.7,159.7 217.3,155.9 516.9,160.6 186.0,157.4 156.5,170.6 140.0,198.5 187.9,150.5 328.2,156.9 324.7,156.3 215.1,157.2 248.9,156.4 551.3,160.0 180.3,160.0 279.9,155.7 267.8,155.9 231.6,154.3 189.6,158.1 241.9,153.4 140.3,179.3 358.9,157.1 141.3,196.3 519.2,159.2 504.4,160.8 223.6,155.9 260.8,154.7 156.7,170.7 333.4,156.6 455.8,159.6 274.2,155.3 207.3,155.2 189.4,155.5 192.5,155.0 341.1,156.8 271.8,154.5 204.1,154.5 440.9,158.8 185.3,158.5 425.8,159.3 160.8,149.7 328.9,156.5 227.2,155.8 196.4,157.9 491.0,160.0 249.7,156.2 216.8,153.8 198.0,154.7 262.2,155.5 539.0,158.6 326.0,156.2 351.8,157.3 478.6,159.6 164.8,165.2 323.6,156.5 208.8,154.1 394.0,158.1 551.3,159.3 525.1,159.9 350.1,156.8 322.7,156.5 144.9,189.2 158.1,170.6 141.4,178.8 361.6,157.2 169.1,145.8 546.0,159.9 208.9,154.2 174.7,147.1 413.9,158.3 218.2,154.4 294.2,155.3 391.7,158.5 322.6,156.7 542.6,161.0 289.8,155.7 312.3,156.4 149.0,157.0 525.8,159.7 167.3,146.4 419.3,159.1 348.6,157.3 566.7,156.9 145.7,188.2 356.6,157.0 156.1,150.1 466.8,159.2 312.9,156.2 176.9,146.3 349.1,157.5 191.8,149.1 284.4,155.0 206.2,152.0 419.9,158.9 204.8,156.6 202.7,151.2 147.6,159.2 570.7,163.0 188.6,148.6 208.0,156.8 260.4,155.7 425.0,159.0 207.0,154.3 350.3,157.4 301.2,156.1 364.6,157.5 141.6,195.9 246.1,156.3 168.4,144.8 210.2,155.1 245.0,156.0 248.2,153.7 544.9,161.1 447.8,159.3 505.3,159.6 216.0,153.1 506.5,159.7 147.4,157.0 540.3,161.8 159.3,167.0 477.2,159.5 520.3,159.1 320.0,156.6 319.7,156.0 372.2,157.3 192.1,156.9 287.1,155.6 414.3,158.8 315.5,156.3 412.1,158.8 242.9,156.6 414.0,158.9 400.3,158.7 420.2,158.6 270.4,155.6 265.4,155.5 247.4,156.1 153.5,175.1 331.5,156.7 279.6,155.7 152.9,175.8 244.8,156.3 441.0,159.4 523.6,161.4 187.5,149.7 181.8,146.9 270.8,155.7 210.3,154.7 401.6,158.5 194.1,151.0 446.1,159.1 217.6,154.4 259.8,154.6 417.4,159.2 162.7,165.4 145.0,191.8 141.2,180.3 277.9,156.1 140.4,175.5 228.8,156.1 349.1,157.3 419.2,158.6 512.6,160.2 196.8,150.8 332.9,156.5 556.9,160.5 322.7,155.9 155.2,148.7 548.7,160.0 205.7,152.2 353.4,157.2 558.3,160.2 337.4,156.9 343.0,157.2 566.2,163.9 270.3,155.4 257.1,154.0 148.9,185.2 542.3,161.9 566.4,160.4 139.9,198.5 434.8,158.7 175.0,144.8 173.9,162.5 406.7,158.5 181.2,157.9 505.8,159.7 504.2,160.7 505.8,159.7 206.6,153.7 191.4,159.0 420.2,159.2 513.3,159.9 445.1,159.5 276.0,154.8 545.6,160.0 396.5,158.5 139.2,198.5 152.1,152.3 382.8,158.3 220.7,154.6 145.3,161.7 348.5,157.2 230.5,153.2 190.8,147.2 172.3,144.7 273.4,155.2 396.9,158.1 455.3,159.5 262.8,154.3 139.6,162.9 527.9,160.7 281.0,155.2 410.1,158.7 410.3,158.4 504.3,159.5 465.9,160.0 375.5,157.4 344.1,156.7 263.4,155.1 158.7,168.9 179.1,158.3 156.4,172.3 510.5,160.3 553.0,159.6 254.0,153.8 140.7,171.6 181.4,148.2 370.8,157.2 297.0,155.7 510.7,159.8 237.3,154.6 155.1,149.6 454.9,159.3 187.7,156.1 455.0,159.3 188.5,150.2 163.4,168.5 170.8,145.0 222.5,153.7 171.1,147.5 365.7,157.6 172.6,164.1 253.8,154.2 170.0,161.2 429.5,159.4 251.4,156.1 554.7,158.8 452.6,159.1 491.7,159.7 173.1,163.3 142.9,161.5 144.7,190.8 236.1,153.8 401.4,158.7 271.7,155.0 367.7,157.7 228.4,154.2 156.4,148.5 249.0,155.7 189.6,155.7 329.1,156.9 282.9,155.1 333.2,157.0 240.8,155.2 240.3,155.5 560.6,158.7 523.5,159.6 345.4,156.6 474.2,159.7 334.3,156.9 226.5,155.5 555.0,159.8 262.9,155.8 310.2,156.2 506.4,159.5 508.0,160.8 378.3,158.1 211.3,152.8 203.4,150.7 170.1,145.5 334.2,156.9 419.5,158.6 558.3,161.1 338.9,156.7 507.8,160.1 226.6,156.2 225.6,153.8 219.0,154.1 299.2,155.6 353.5,156.9 184.2,157.6 326.7,156.3 333.4,156.3 259.4,155.1 304.9,155.8 484.5,159.9 368.8,157.5 446.4,159.4 240.7,154.3 244.5,155.1 238.6,154.5 258.9,154.6 150.4,156.0 167.6,148.0 181.3,159.8 309.5,155.5 269.6,155.3 181.4,148.5 307.8,156.1 182.8,148.8 454.5,159.2 341.2,157.1 389.9,157.8 375.5,157.9 467.5,160.0 194.1,151.8 243.1,154.8 386.2,158.1 147.6,160.0 480.2,159.8 192.6,156.8 442.4,159.4 289.3,154.9 140.4,178.7 150.6,181.0 254.5,155.5 316.7,156.2 471.7,159.9 231.4,155.1 150.6,158.5 313.0,155.6 549.2,160.8 177.8,147.1 183.7,148.8 189.4,151.1 165.9,164.9 209.4,153.3 207.0,151.6 241.6,155.7 495.9,159.8 156.0,147.5 178.0,144.4 227.2,156.5 197.6,154.4 235.8,155.5 141.2,161.2 240.6,155.6 332.4,156.2 305.5,156.2 147.9,186.5 278.9,155.0 246.8,155.6 313.1,156.5 352.9,157.5 289.0,156.0 289.1,155.5 571.0,164.0 476.1,159.7 287.2,155.0 246.3,156.5 335.2,156.5 491.7,160.2 302.1,155.9 191.2,148.3 573.2,158.1 331.2,156.6 217.4,156.6 497.6,159.7 257.2,154.1 200.3,152.7 223.3,156.2 453.7,159.6 142.3,194.3 163.9,147.6 201.3,154.6 174.0,162.5 278.6,154.7 489.3,159.8 254.9,155.8 216.8,153.3 147.4,160.0 239.6,155.5 160.7,148.1 308.7,156.1 316.9,156.4 163.6,146.7 243.9,155.8 315.5,156.4 172.0,164.5 535.3,158.8 500.8,160.1 188.5,155.5 185.1,156.3 484.8,159.7 180.5,148.3 405.4,158.6 418.1,158.5 303.7,155.7 495.9,160.4 220.5,156.5 455.7,159.2 332.9,156.6 287.2,155.5 179.1,147.5 212.4,153.9 217.6,155.0 502.3,159.9 467.9,160.0 249.0,155.5 259.5,154.1 237.6,153.9 203.2,154.7 386.2,158.1 390.1,158.0 354.9,157.5 460.6,159.4 365.2,157.5 361.6,157.5 214.6,156.7 500.3,160.5 412.0,158.4 243.2,154.7 224.6,155.9 341.1,157.0 328.9,156.6 279.6,156.0 328.3,156.6 395.4,158.0 429.9,158.9 316.5,155.7 261.2,155.8 192.5,156.0 442.6,159.1 272.1,155.0 163.7,146.2 260.0,154.6 495.0,160.0 253.3,154.7 311.4,156.3 280.4,155.4 372.7,157.8 398.7,158.7 302.7,156.4 423.2,158.8 397.6,158.1 163.9,145.1 174.4,160.7 170.4,162.1 283.2,155.4 197.0,155.2 445.5,159.1 339.3,156.5 309.6,156.3 190.1,157.6 378.7,157.9 280.4,156.1 321.5,155.9 295.4,156.4 489.8,159.7 411.9,159.1 241.9,153.5 176.0,144.0 271.8,154.5 175.8,145.1 335.1,156.7 173.1,144.5 284.5,155.7 175.9,146.8 294.3,155.8 311.3,155.7 430.1,159.3 428.9,159.0 203.0,151.0 284.2,156.2 374.2,158.1 475.8,160.1 183.4,149.3 276.7,155.3 207.2,153.4 534.8,161.8 141.5,196.1 427.1,158.9 442.2,159.1 441.8,158.9 495.1,159.9 149.4,156.7 169.4,145.4 356.2,156.9 207.8,153.3 303.7,155.7 248.9,153.7 293.6,155.1 509.1,159.5 249.9,154.6 559.6,160.1 141.0,194.6 238.6,153.8 147.0,188.5 299.7,156.0 341.5,156.8 267.2,155.5 477.1,160.1 235.5,156.2 432.8,159.4 144.7,191.6 481.0,160.3 355.7,157.0 253.8,156.1 336.4,156.6 182.2,149.2 324.0,156.5 152.9,152.5 468.2,159.4 289.0,155.8 348.8,156.7 189.8,158.7 139.6,192.4 264.8,154.9 309.1,156.1 201.8,150.9 153.3,152.5 357.2,157.0 257.7,155.5 171.7,145.8 292.3,155.5 151.4,154.5 352.0,157.1 177.7,147.3 375.1,157.8 315.7,156.3 328.1,156.9 227.6,153.3 187.0,155.7 310.3,156.0 214.5,152.6 490.6,159.8 407.4,158.9 163.5,146.4 148.4,185.4 232.9,155.6 472.2,160.0 232.0,156.5 388.3,158.4 273.6,154.9 160.7,169.7 141.3,184.7 201.6,155.5 572.5,160.3 538.3,161.3 545.9,162.1 298.1,155.6 198.8,157.6 189.3,150.8 459.9,159.3 150.0,156.3 298.5,156.4 224.5,155.5 248.1,155.3"/>
<polyline class="pb" points="551.7,157.4 471.6,159.7 572.9,165.2 513.7,159.8 565.0,162.1 524.4,162.1 506.3,161.0 573.9,162.0 529.8,159.1 493.6,161.0 540.1,161.4 407.6,158.5 542.0,159.3 485.5,160.8 567.2,157.5 430.8,158.8 452.0,159.6 497.9,159.9 477.6,160.6 561.2,161.8 529.0,158.9 511.6,160.4"/>
<polyline class="pg" points="528.9,152.2 501.7,152.9 464.5,152.9 554.2,151.1 565.4,150.4 513.5,152.6 526.7,152.2 531.8,152.1 540.1,151.9 492.1,153.1 570.4,150.2 554.2,151.1 468.1,152.9 519.1,152.4 444.8,152.6 522.6,168.0 572.7,170.4 547.5,168.9 572.6,170.4 546.6,168.9 435.1,166.3 558.6,169.5 526.7,168.1 441.7,166.4 570.5,170.2 559.2,169.6 525.3,168.1 462.3,166.7 551.8,169.2 539.5,168.5"/>
<polyline class="pl" points="565.9,148.5 528.5,145.9 497.5,150.1 539.3,149.3 495.0,142.1 560.6,147.3 493.7,143.7 432.2,140.1 477.3,168.6 529.5,175.6 527.2,173.6 487.3,168.5 565.7,172.7 529.7,172.4 539.6,170.8 570.9,173.2"/>
<polyline class="pb" points="502.8,159.4 459.8,160.1 557.1,162.1 550.4,157.1 532.5,158.9 549.8,159.1 552.5,157.7 558.1,159.7 501.0,160.1 458.8,159.9 565.8,157.7 456.8,159.2 507.1,159.2 552.6,157.2 470.1,160.3 558.0,162.1 515.3,159.0 471.0,160.2 555.1,162.4 541.3,162.1 539.5,159.3 531.8,159.4"/>
<polyline class="pg" points="479.0,153.1 509.0,152.7 434.3,152.5 480.2,153.1 443.5,152.6 449.9,152.7 490.2,153.2 527.5,152.2 472.3,153.0 463.1,152.9 549.5,151.3 562.1,150.6 507.5,152.7 525.4,152.2 525.3,152.3 540.4,168.5 430.0,166.3 564.3,169.9 567.3,170.1 546.3,168.8 520.5,167.9 514.6,167.8 548.0,168.9 556.6,169.4 461.5,166.7 516.7,167.8 495.2,167.2 503.8,167.5 540.1,168.5 574.4,170.5"/>
<polyline class="pl" points="524.9,146.4 441.0,141.7 563.6,146.8 474.9,140.9 513.6,151.4 573.0,149.3 542.2,144.1 516.6,145.8 524.8,170.3 533.4,172.0 416.1,171.2 547.7,170.6 516.5,169.5 462.0,173.9 571.1,171.4 520.0,174.7"/>
<polyline class="pb" points="545.5,158.6 434.6,159.1 477.3,159.5 512.9,161.2 544.1,162.1 569.6,160.1 521.3,161.3 511.4,159.6 572.3,155.7 511.7,160.3 549.5,162.8 551.3,159.0 552.2,159.1 506.0,159.4 575.0,164.6 513.2,161.1 475.9,159.7 528.2,159.9 522.4,160.3 554.4,160.8 540.8,158.9 569.9,156.6"/>
<polyline class="pb" points="571.7,158.0 558.8,158.9 548.3,157.5 556.0,159.2 569.6,160.2 548.4,160.3 570.4,157.4 548.3,162.1 574.5,162.4 543.2,161.2 548.3,160.4 553.3,163.3 571.5,156.8 565.5,165.2 572.5,155.6 569.9,165.5 564.5,165.1 543.5,158.0 576.6,161.7 550.0,162.5 551.2,157.2 569.4,158.6 564.8,162.4 558.4,157.6 566.1,162.0 553.2,162.2"/>
</g>
</g>
<text x="190.8" y="167.0" font-size="13.50" text-anchor="middle" font-weight="bold" fill="#e02a36">x</text>
<rect x="97.3" y="47.5" width="477.4" height="420.9" fill="none" stroke="#505050" stroke-width="1.7"/>
<path d="M114.6 468.4H556.9M114.6 468.4v9.6M188.3 468.4v9.6M262.0 468.4v9.6M335.8 468.4v9.6M409.5 468.4v9.6M483.2 468.4v9.6M556.9 468.4v9.6M97.3 62.9V452.7M97.3 62.9h-9.6M97.3 127.9h-9.6M97.3 192.8h-9.6M97.3 257.8h-9.6M97.3 322.8h-9.6M97.3 387.7h-9.6M97.3 452.7h-9.6" fill="none" stroke="#111" stroke-width="1.3"/>
<text x="115.2" y="501.7" font-size="16.50" text-anchor="middle" textLength="8.7" lengthAdjust="spacingAndGlyphs" fill="#222">0</text>
<text x="188.9" y="501.7" font-size="16.50" text-anchor="middle" textLength="28.3" lengthAdjust="spacingAndGlyphs" fill="#222">100</text>
<text x="262.6" y="501.7" font-size="16.50" text-anchor="middle" textLength="28.3" lengthAdjust="spacingAndGlyphs" fill="#222">200</text>
<text x="336.4" y="501.7" font-size="16.50" text-anchor="middle" textLength="28.3" lengthAdjust="spacingAndGlyphs" fill="#222">300</text>
<text x="410.1" y="501.7" font-size="16.50" text-anchor="middle" textLength="28.3" lengthAdjust="spacingAndGlyphs" fill="#222">400</text>
<text x="483.8" y="501.7" font-size="16.50" text-anchor="middle" textLength="28.3" lengthAdjust="spacingAndGlyphs" fill="#222">500</text>
<text x="557.5" y="501.7" font-size="16.50" text-anchor="middle" textLength="28.3" lengthAdjust="spacingAndGlyphs" fill="#222">600</text>
<text x="76.7" y="63.4" font-size="16.50" text-anchor="middle" textLength="25.2" lengthAdjust="spacingAndGlyphs" transform="rotate(-90 76.7 63.4)" fill="#222">1.5</text>
<text x="76.7" y="128.4" font-size="16.50" text-anchor="middle" textLength="25.2" lengthAdjust="spacingAndGlyphs" transform="rotate(-90 76.7 128.4)" fill="#222">1.0</text>
<text x="76.7" y="193.3" font-size="16.50" text-anchor="middle" textLength="25.2" lengthAdjust="spacingAndGlyphs" transform="rotate(-90 76.7 193.3)" fill="#222">0.5</text>
<text x="76.7" y="258.3" font-size="16.50" text-anchor="middle" textLength="25.2" lengthAdjust="spacingAndGlyphs" transform="rotate(-90 76.7 258.3)" fill="#222">0.0</text>
<text x="76.7" y="323.3" font-size="16.50" text-anchor="middle" textLength="30.6" lengthAdjust="spacingAndGlyphs" transform="rotate(-90 76.7 323.3)" fill="#222">-0.5</text>
<text x="76.7" y="388.2" font-size="16.50" text-anchor="middle" textLength="30.6" lengthAdjust="spacingAndGlyphs" transform="rotate(-90 76.7 388.2)" fill="#222">-1.0</text>
<text x="76.7" y="453.2" font-size="16.50" text-anchor="middle" textLength="30.6" lengthAdjust="spacingAndGlyphs" transform="rotate(-90 76.7 453.2)" fill="#222">-1.5</text>
<text x="335.4" y="536.7" font-size="17.50" text-anchor="middle" textLength="88.6" lengthAdjust="spacingAndGlyphs" fill="#222">protein size</text>
<text x="42.7" y="257.6" font-size="18.40" text-anchor="middle" textLength="212.5" lengthAdjust="spacingAndGlyphs" transform="rotate(-90 42.7 257.6)" fill="#222">normalised QMEAN4 score</text>
<text x="115.1" y="357.7" font-size="14.60" font-weight="bold" textLength="158.8" lengthAdjust="spacingAndGlyphs" fill="#1a1a1a">Z-score QMEAN: -0.75</text>
<text x="115.1" y="374.6" font-size="14.60" textLength="136.3" lengthAdjust="spacingAndGlyphs" fill="#1a1a1a">Z-score Cbeta: -0.88</text>
<text x="115.1" y="391.4" font-size="14.60" textLength="153.3" lengthAdjust="spacingAndGlyphs" fill="#1a1a1a">Z-score all_atom: -0.18</text>
<text x="115.1" y="408.3" font-size="14.60" textLength="151.3" lengthAdjust="spacingAndGlyphs" fill="#1a1a1a">Z-score solvation: 0.58</text>
<text x="115.1" y="425.2" font-size="14.60" textLength="141.3" lengthAdjust="spacingAndGlyphs" fill="#1a1a1a">Z-score torsion: -1.53</text>
<rect x="418.7" y="364.3" width="137.1" height="87.2" fill="#fff" stroke="#1a1a1a" stroke-width="1.2"/>
<rect x="432.4" y="377.6" width="10.0" height="8.8" fill="#000" stroke="#111" stroke-width="1.1"/>
<text x="455.9" y="387.7" font-size="14.60" textLength="74.3" lengthAdjust="spacingAndGlyphs" fill="#1a1a1a">|Z-score|&lt;1</text>
<rect x="432.4" y="395.0" width="10.0" height="8.8" fill="#a9a9a9" stroke="#111" stroke-width="1.1"/>
<text x="456.9" y="405.1" font-size="14.60" textLength="91.4" lengthAdjust="spacingAndGlyphs" fill="#1a1a1a">1&lt;|Z-score|&lt;2</text>
<rect x="432.4" y="412.4" width="10.0" height="8.8" fill="#d3d3d3" stroke="#111" stroke-width="1.1"/>
<text x="455.9" y="422.5" font-size="14.60" textLength="76.0" lengthAdjust="spacingAndGlyphs" fill="#1a1a1a">|Z-score|&gt;2</text>
<rect x="432.4" y="429.8" width="10.0" height="8.8" fill="#e8202a" stroke="#111" stroke-width="1.1"/>
<text x="455.3" y="439.9" font-size="14.60" textLength="83.7" lengthAdjust="spacingAndGlyphs" fill="#1a1a1a">query model</text>
<clipPath id="cpR"><rect x="683.9" y="42.4" width="475.6" height="419.8"/></clipPath>
<g clip-path="url(#cpR)">
<use href="#sc" x="586.6" y="-5.1"/>
</g>
<text x="773.7" y="156.9" font-size="13.50" text-anchor="middle" font-weight="bold" fill="#e02a36">x</text>
<rect x="683.9" y="42.4" width="475.6" height="419.8" fill="none" stroke="#505050" stroke-width="1.7"/>
<path d="M701.3 462.2H1142.1M701.3 462.2v9.6M774.8 462.2v9.6M848.2 462.2v9.6M921.7 462.2v9.6M995.2 462.2v9.6M1068.6 462.2v9.6M1142.1 462.2v9.6M683.9 58.0V446.6M683.9 58.0h-9.6M683.9 122.8h-9.6M683.9 187.5h-9.6M683.9 252.3h-9.6M683.9 317.1h-9.6M683.9 381.8h-9.6M683.9 446.6h-9.6" fill="none" stroke="#111" stroke-width="1.3"/>
<text x="700.8" y="494.9" font-size="16.50" text-anchor="middle" textLength="8.7" lengthAdjust="spacingAndGlyphs" fill="#222">0</text>
<text x="774.3" y="494.9" font-size="16.50" text-anchor="middle" textLength="28.3" lengthAdjust="spacingAndGlyphs" fill="#222">100</text>
<text x="847.7" y="494.9" font-size="16.50" text-anchor="middle" textLength="28.3" lengthAdjust="spacingAndGlyphs" fill="#222">200</text>
<text x="921.2" y="494.9" font-size="16.50" text-anchor="middle" textLength="28.3" lengthAdjust="spacingAndGlyphs" fill="#222">300</text>
<text x="994.7" y="494.9" font-size="16.50" text-anchor="middle" textLength="28.3" lengthAdjust="spacingAndGlyphs" fill="#222">400</text>
<text x="1068.1" y="494.9" font-size="16.50" text-anchor="middle" textLength="28.3" lengthAdjust="spacingAndGlyphs" fill="#222">500</text>
<text x="1141.6" y="494.9" font-size="16.50" text-anchor="middle" textLength="28.3" lengthAdjust="spacingAndGlyphs" fill="#222">600</text>
<text x="664.3" y="58.5" font-size="16.50" text-anchor="middle" textLength="25.2" lengthAdjust="spacingAndGlyphs" transform="rotate(-90 664.3 58.5)" fill="#222">1.5</text>
<text x="664.3" y="123.3" font-size="16.50" text-anchor="middle" textLength="25.2" lengthAdjust="spacingAndGlyphs" transform="rotate(-90 664.3 123.3)" fill="#222">1.0</text>
<text x="664.3" y="188.0" font-size="16.50" text-anchor="middle" textLength="25.2" lengthAdjust="spacingAndGlyphs" transform="rotate(-90 664.3 188.0)" fill="#222">0.5</text>
<text x="664.3" y="252.8" font-size="16.50" text-anchor="middle" textLength="25.2" lengthAdjust="spacingAndGlyphs" transform="rotate(-90 664.3 252.8)" fill="#222">0.0</text>
<text x="664.3" y="317.6" font-size="16.50" text-anchor="middle" textLength="30.6" lengthAdjust="spacingAndGlyphs" transform="rotate(-90 664.3 317.6)" fill="#222">-0.5</text>
<text x="664.3" y="382.3" font-size="16.50" text-anchor="middle" textLength="30.6" lengthAdjust="spacingAndGlyphs" transform="rotate(-90 664.3 382.3)" fill="#222">-1.0</text>
<text x="664.3" y="447.1" font-size="16.50" text-anchor="middle" textLength="30.6" lengthAdjust="spacingAndGlyphs" transform="rotate(-90 664.3 447.1)" fill="#222">-1.5</text>
<text x="921.7" y="530.5" font-size="17.50" text-anchor="middle" textLength="88.6" lengthAdjust="spacingAndGlyphs" fill="#222">protein size</text>
<text x="630.3" y="252.0" font-size="18.40" text-anchor="middle" textLength="212.5" lengthAdjust="spacingAndGlyphs" transform="rotate(-90 630.3 252.0)" fill="#222">normalised QMEAN4 score</text>
<text x="701.7" y="351.5" font-size="14.60" font-weight="bold" textLength="158.8" lengthAdjust="spacingAndGlyphs" fill="#1a1a1a">Z-score QMEAN: -0.37</text>
<text x="701.7" y="368.4" font-size="14.60" textLength="131.3" lengthAdjust="spacingAndGlyphs" fill="#1a1a1a">Z-score Cbeta: 0.08</text>
<text x="701.7" y="385.2" font-size="14.60" textLength="148.3" lengthAdjust="spacingAndGlyphs" fill="#1a1a1a">Z-score all_atom: 0.77</text>
<text x="701.7" y="402.1" font-size="14.60" textLength="151.3" lengthAdjust="spacingAndGlyphs" fill="#1a1a1a">Z-score solvation: 1.23</text>
<text x="701.7" y="419.0" font-size="14.60" textLength="141.3" lengthAdjust="spacingAndGlyphs" fill="#1a1a1a">Z-score torsion: -1.89</text>
<rect x="1004.2" y="358.1" width="137.1" height="87.2" fill="#fff" stroke="#1a1a1a" stroke-width="1.2"/>
<rect x="1017.9" y="371.4" width="10.0" height="8.8" fill="#000" stroke="#111" stroke-width="1.1"/>
<text x="1041.4" y="381.5" font-size="14.60" textLength="74.3" lengthAdjust="spacingAndGlyphs" fill="#1a1a1a">|Z-score|&lt;1</text>
<rect x="1017.9" y="388.8" width="10.0" height="8.8" fill="#a9a9a9" stroke="#111" stroke-width="1.1"/>
<text x="1042.4" y="398.9" font-size="14.60" textLength="91.4" lengthAdjust="spacingAndGlyphs" fill="#1a1a1a">1&lt;|Z-score|&lt;2</text>
<rect x="1017.9" y="406.2" width="10.0" height="8.8" fill="#d3d3d3" stroke="#111" stroke-width="1.1"/>
<text x="1041.4" y="416.3" font-size="14.60" textLength="76.0" lengthAdjust="spacingAndGlyphs" fill="#1a1a1a">|Z-score|&gt;2</text>
<rect x="1017.9" y="423.6" width="10.0" height="8.8" fill="#e8202a" stroke="#111" stroke-width="1.1"/>
<text x="1040.8" y="433.7" font-size="14.60" textLength="83.7" lengthAdjust="spacingAndGlyphs" fill="#1a1a1a">query model</text>
<rect x="24.2" y="583.1" width="82.7" height="28.4" fill="#e6d3df"/>
<text x="31.9" y="604.4" font-size="16.60" font-weight="bold" textLength="50.0" lengthAdjust="spacingAndGlyphs" fill="#15151f">Figure</text>
<text x="91.2" y="604.4" font-size="16.60" font-weight="bold" textLength="8.8" lengthAdjust="spacingAndGlyphs" fill="#15151f">6</text>
<text x="116.4" y="604.4" font-size="17.00" textLength="93.4" lengthAdjust="spacingAndGlyphs" fill="#15151f">Comparison</text>
<text x="216.3" y="604.4" font-size="17.00" textLength="33.8" lengthAdjust="spacingAndGlyphs" fill="#15151f">with</text>
<text x="256.6" y="604.4" font-size="17.00" textLength="118.0" lengthAdjust="spacingAndGlyphs" fill="#15151f">non-redundant</text>
<text x="381.0" y="604.4" font-size="17.00" textLength="22.5" lengthAdjust="spacingAndGlyphs" fill="#15151f">set</text>
<text x="409.5" y="604.4" font-size="17.00" textLength="15.1" lengthAdjust="spacingAndGlyphs" fill="#15151f">of</text>
<text x="431.4" y="604.4" font-size="17.00" textLength="30.0" lengthAdjust="spacingAndGlyphs" fill="#15151f">PDB</text>
<text x="468.1" y="604.4" font-size="17.00" textLength="78.4" lengthAdjust="spacingAndGlyphs" fill="#15151f">structures</text>
<text x="553.0" y="604.4" font-size="17.00" textLength="14.8" lengthAdjust="spacingAndGlyphs" fill="#15151f">of</text>
<text x="574.2" y="604.4" font-size="17.00" textLength="24.2" lengthAdjust="spacingAndGlyphs" fill="#15151f">the</text>
<text x="604.8" y="604.4" font-size="17.00" textLength="29.8" lengthAdjust="spacingAndGlyphs" fill="#15151f">two</text>
<text x="640.5" y="604.4" font-size="17.00" textLength="61.0" lengthAdjust="spacingAndGlyphs" fill="#15151f">models;</text>
<text x="708.5" y="604.4" font-size="17.00" textLength="24.5" lengthAdjust="spacingAndGlyphs" fill="#15151f">left</text>
<text x="739.2" y="604.4" font-size="17.00" textLength="19.4" lengthAdjust="spacingAndGlyphs" fill="#15151f">for</text>
<text x="765.1" y="604.4" font-size="17.00" textLength="25.0" lengthAdjust="spacingAndGlyphs" fill="#15151f">the</text>
<text x="796.6" y="604.4" font-size="17.00" textLength="29.6" lengthAdjust="spacingAndGlyphs" fill="#15151f">first</text>
<text x="832.4" y="604.4" font-size="17.00" textLength="53.0" lengthAdjust="spacingAndGlyphs" fill="#15151f">model,</text>
<text x="891.9" y="604.4" font-size="17.00" textLength="25.2" lengthAdjust="spacingAndGlyphs" fill="#15151f">the</text>
<text x="923.3" y="604.4" font-size="17.00" textLength="35.8" lengthAdjust="spacingAndGlyphs" fill="#15151f">right</text>
<text x="965.6" y="604.4" font-size="17.00" textLength="20.0" lengthAdjust="spacingAndGlyphs" fill="#15151f">for</text>
<text x="991.8" y="604.4" font-size="17.00" textLength="25.2" lengthAdjust="spacingAndGlyphs" fill="#15151f">the</text>
<text x="1023.5" y="604.4" font-size="17.00" textLength="59.5" lengthAdjust="spacingAndGlyphs" fill="#15151f">second.</text>
</svg></body></html>
